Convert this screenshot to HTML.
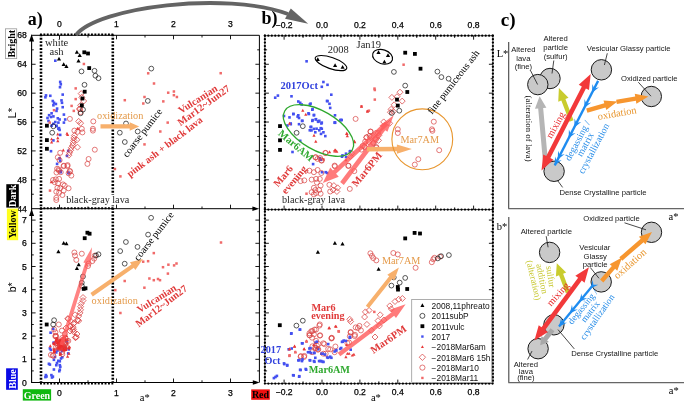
<!DOCTYPE html><html><head><meta charset="utf-8"><style>html,body{margin:0;padding:0;background:#fff;overflow:hidden;}svg{display:block;will-change:transform;}</style></head><body>
<svg width="685" height="405" viewBox="0 0 685 405">
<rect width="685" height="405" fill="#fff"/>
<line x1="31.6" y1="38" x2="31.6" y2="382.5" stroke="#000" stroke-width="1.1"/>
<polygon points="31.6,34.3 34.1,41.5 29.1,41.5" fill="#000"/>
<polygon points="31.6,209 34.1,216 29.1,216" fill="#000"/>
<line x1="31.1" y1="35.3" x2="259.4" y2="35.3" stroke="#000" stroke-width="1"/>
<line x1="259.4" y1="35.3" x2="259.4" y2="382.5" stroke="#000" stroke-width="1"/>
<line x1="31.1" y1="208.7" x2="253" y2="208.7" stroke="#000" stroke-width="1"/>
<polygon points="259.2,208.7 252.4,206.4 252.4,211" fill="#000"/>
<line x1="31.1" y1="382.5" x2="253" y2="382.5" stroke="#000" stroke-width="1"/>
<polygon points="259.6,382.5 252.8,380.2 252.8,384.8" fill="#000"/>
<line x1="31.6" y1="194.24" x2="33.8" y2="194.24" stroke="#000" stroke-width="0.9"/>
<line x1="259.4" y1="194.24" x2="257.2" y2="194.24" stroke="#000" stroke-width="0.9"/>
<line x1="31.6" y1="179.8" x2="35.6" y2="179.8" stroke="#000" stroke-width="0.9"/>
<line x1="259.4" y1="179.8" x2="255.4" y2="179.8" stroke="#000" stroke-width="0.9"/>
<line x1="31.6" y1="165.36" x2="33.8" y2="165.36" stroke="#000" stroke-width="0.9"/>
<line x1="259.4" y1="165.36" x2="257.2" y2="165.36" stroke="#000" stroke-width="0.9"/>
<line x1="31.6" y1="150.92" x2="35.6" y2="150.92" stroke="#000" stroke-width="0.9"/>
<line x1="259.4" y1="150.92" x2="255.4" y2="150.92" stroke="#000" stroke-width="0.9"/>
<line x1="31.6" y1="136.48" x2="33.8" y2="136.48" stroke="#000" stroke-width="0.9"/>
<line x1="259.4" y1="136.48" x2="257.2" y2="136.48" stroke="#000" stroke-width="0.9"/>
<line x1="31.6" y1="122.04" x2="35.6" y2="122.04" stroke="#000" stroke-width="0.9"/>
<line x1="259.4" y1="122.04" x2="255.4" y2="122.04" stroke="#000" stroke-width="0.9"/>
<line x1="31.6" y1="107.6" x2="33.8" y2="107.6" stroke="#000" stroke-width="0.9"/>
<line x1="259.4" y1="107.6" x2="257.2" y2="107.6" stroke="#000" stroke-width="0.9"/>
<line x1="31.6" y1="93.16" x2="35.6" y2="93.16" stroke="#000" stroke-width="0.9"/>
<line x1="259.4" y1="93.16" x2="255.4" y2="93.16" stroke="#000" stroke-width="0.9"/>
<line x1="31.6" y1="78.72" x2="33.8" y2="78.72" stroke="#000" stroke-width="0.9"/>
<line x1="259.4" y1="78.72" x2="257.2" y2="78.72" stroke="#000" stroke-width="0.9"/>
<line x1="31.6" y1="64.28" x2="35.6" y2="64.28" stroke="#000" stroke-width="0.9"/>
<line x1="259.4" y1="64.28" x2="255.4" y2="64.28" stroke="#000" stroke-width="0.9"/>
<line x1="31.6" y1="49.84" x2="33.8" y2="49.84" stroke="#000" stroke-width="0.9"/>
<line x1="259.4" y1="49.84" x2="257.2" y2="49.84" stroke="#000" stroke-width="0.9"/>
<line x1="59.5" y1="35.3" x2="59.5" y2="39.3" stroke="#000" stroke-width="0.9"/>
<line x1="59.5" y1="208.7" x2="59.5" y2="204.7" stroke="#000" stroke-width="0.9"/>
<line x1="88" y1="35.3" x2="88" y2="37.5" stroke="#000" stroke-width="0.9"/>
<line x1="88" y1="208.7" x2="88" y2="206.5" stroke="#000" stroke-width="0.9"/>
<line x1="116.5" y1="35.3" x2="116.5" y2="39.3" stroke="#000" stroke-width="0.9"/>
<line x1="116.5" y1="208.7" x2="116.5" y2="204.7" stroke="#000" stroke-width="0.9"/>
<line x1="145" y1="35.3" x2="145" y2="37.5" stroke="#000" stroke-width="0.9"/>
<line x1="145" y1="208.7" x2="145" y2="206.5" stroke="#000" stroke-width="0.9"/>
<line x1="173.5" y1="35.3" x2="173.5" y2="39.3" stroke="#000" stroke-width="0.9"/>
<line x1="173.5" y1="208.7" x2="173.5" y2="204.7" stroke="#000" stroke-width="0.9"/>
<line x1="202" y1="35.3" x2="202" y2="37.5" stroke="#000" stroke-width="0.9"/>
<line x1="202" y1="208.7" x2="202" y2="206.5" stroke="#000" stroke-width="0.9"/>
<line x1="230.5" y1="35.3" x2="230.5" y2="39.3" stroke="#000" stroke-width="0.9"/>
<line x1="230.5" y1="208.7" x2="230.5" y2="204.7" stroke="#000" stroke-width="0.9"/>
<line x1="31.6" y1="370.9" x2="33.8" y2="370.9" stroke="#000" stroke-width="0.9"/>
<line x1="259.4" y1="370.9" x2="257.2" y2="370.9" stroke="#000" stroke-width="0.9"/>
<line x1="31.6" y1="359.3" x2="35.6" y2="359.3" stroke="#000" stroke-width="0.9"/>
<line x1="259.4" y1="359.3" x2="255.4" y2="359.3" stroke="#000" stroke-width="0.9"/>
<line x1="31.6" y1="347.7" x2="33.8" y2="347.7" stroke="#000" stroke-width="0.9"/>
<line x1="259.4" y1="347.7" x2="257.2" y2="347.7" stroke="#000" stroke-width="0.9"/>
<line x1="31.6" y1="336.1" x2="35.6" y2="336.1" stroke="#000" stroke-width="0.9"/>
<line x1="259.4" y1="336.1" x2="255.4" y2="336.1" stroke="#000" stroke-width="0.9"/>
<line x1="31.6" y1="324.5" x2="33.8" y2="324.5" stroke="#000" stroke-width="0.9"/>
<line x1="259.4" y1="324.5" x2="257.2" y2="324.5" stroke="#000" stroke-width="0.9"/>
<line x1="31.6" y1="312.9" x2="35.6" y2="312.9" stroke="#000" stroke-width="0.9"/>
<line x1="259.4" y1="312.9" x2="255.4" y2="312.9" stroke="#000" stroke-width="0.9"/>
<line x1="31.6" y1="301.3" x2="33.8" y2="301.3" stroke="#000" stroke-width="0.9"/>
<line x1="259.4" y1="301.3" x2="257.2" y2="301.3" stroke="#000" stroke-width="0.9"/>
<line x1="31.6" y1="289.7" x2="35.6" y2="289.7" stroke="#000" stroke-width="0.9"/>
<line x1="259.4" y1="289.7" x2="255.4" y2="289.7" stroke="#000" stroke-width="0.9"/>
<line x1="31.6" y1="278.1" x2="33.8" y2="278.1" stroke="#000" stroke-width="0.9"/>
<line x1="259.4" y1="278.1" x2="257.2" y2="278.1" stroke="#000" stroke-width="0.9"/>
<line x1="31.6" y1="266.5" x2="35.6" y2="266.5" stroke="#000" stroke-width="0.9"/>
<line x1="259.4" y1="266.5" x2="255.4" y2="266.5" stroke="#000" stroke-width="0.9"/>
<line x1="31.6" y1="254.9" x2="33.8" y2="254.9" stroke="#000" stroke-width="0.9"/>
<line x1="259.4" y1="254.9" x2="257.2" y2="254.9" stroke="#000" stroke-width="0.9"/>
<line x1="31.6" y1="243.3" x2="35.6" y2="243.3" stroke="#000" stroke-width="0.9"/>
<line x1="259.4" y1="243.3" x2="255.4" y2="243.3" stroke="#000" stroke-width="0.9"/>
<line x1="31.6" y1="231.7" x2="33.8" y2="231.7" stroke="#000" stroke-width="0.9"/>
<line x1="259.4" y1="231.7" x2="257.2" y2="231.7" stroke="#000" stroke-width="0.9"/>
<line x1="31.6" y1="220.1" x2="35.6" y2="220.1" stroke="#000" stroke-width="0.9"/>
<line x1="259.4" y1="220.1" x2="255.4" y2="220.1" stroke="#000" stroke-width="0.9"/>
<line x1="59.5" y1="382.5" x2="59.5" y2="378.5" stroke="#000" stroke-width="0.9"/>
<line x1="88" y1="382.5" x2="88" y2="380.3" stroke="#000" stroke-width="0.9"/>
<line x1="116.5" y1="382.5" x2="116.5" y2="378.5" stroke="#000" stroke-width="0.9"/>
<line x1="145" y1="382.5" x2="145" y2="380.3" stroke="#000" stroke-width="0.9"/>
<line x1="173.5" y1="382.5" x2="173.5" y2="378.5" stroke="#000" stroke-width="0.9"/>
<line x1="202" y1="382.5" x2="202" y2="380.3" stroke="#000" stroke-width="0.9"/>
<line x1="230.5" y1="382.5" x2="230.5" y2="378.5" stroke="#000" stroke-width="0.9"/>
<text x="26.8" y="38.4" font-family='"Liberation Sans", sans-serif' font-size="8.6" font-weight="normal" fill="#000" text-anchor="end" stroke="#000" stroke-width="0.25">68</text>
<text x="26.8" y="67.28" font-family='"Liberation Sans", sans-serif' font-size="8.6" font-weight="normal" fill="#000" text-anchor="end" stroke="#000" stroke-width="0.25">64</text>
<text x="26.8" y="96.16" font-family='"Liberation Sans", sans-serif' font-size="8.6" font-weight="normal" fill="#000" text-anchor="end" stroke="#000" stroke-width="0.25">60</text>
<text x="26.8" y="125.04" font-family='"Liberation Sans", sans-serif' font-size="8.6" font-weight="normal" fill="#000" text-anchor="end" stroke="#000" stroke-width="0.25">56</text>
<text x="26.8" y="153.92" font-family='"Liberation Sans", sans-serif' font-size="8.6" font-weight="normal" fill="#000" text-anchor="end" stroke="#000" stroke-width="0.25">52</text>
<text x="26.8" y="182.8" font-family='"Liberation Sans", sans-serif' font-size="8.6" font-weight="normal" fill="#000" text-anchor="end" stroke="#000" stroke-width="0.25">48</text>
<text x="26.8" y="211.68" font-family='"Liberation Sans", sans-serif' font-size="8.6" font-weight="normal" fill="#000" text-anchor="end" stroke="#000" stroke-width="0.25">44</text>
<text x="26.8" y="223.1" font-family='"Liberation Sans", sans-serif' font-size="8.6" font-weight="normal" fill="#000" text-anchor="end" stroke="#000" stroke-width="0.25">7</text>
<text x="26.8" y="246.3" font-family='"Liberation Sans", sans-serif' font-size="8.6" font-weight="normal" fill="#000" text-anchor="end" stroke="#000" stroke-width="0.25">6</text>
<text x="26.8" y="269.5" font-family='"Liberation Sans", sans-serif' font-size="8.6" font-weight="normal" fill="#000" text-anchor="end" stroke="#000" stroke-width="0.25">5</text>
<text x="26.8" y="292.7" font-family='"Liberation Sans", sans-serif' font-size="8.6" font-weight="normal" fill="#000" text-anchor="end" stroke="#000" stroke-width="0.25">4</text>
<text x="26.8" y="315.9" font-family='"Liberation Sans", sans-serif' font-size="8.6" font-weight="normal" fill="#000" text-anchor="end" stroke="#000" stroke-width="0.25">3</text>
<text x="26.8" y="339.1" font-family='"Liberation Sans", sans-serif' font-size="8.6" font-weight="normal" fill="#000" text-anchor="end" stroke="#000" stroke-width="0.25">2</text>
<text x="26.8" y="362.3" font-family='"Liberation Sans", sans-serif' font-size="8.6" font-weight="normal" fill="#000" text-anchor="end" stroke="#000" stroke-width="0.25">1</text>
<text x="26.8" y="385.5" font-family='"Liberation Sans", sans-serif' font-size="8.6" font-weight="normal" fill="#000" text-anchor="end" stroke="#000" stroke-width="0.25">0</text>
<text x="59.5" y="27.3" font-family='"Liberation Sans", sans-serif' font-size="8.6" font-weight="normal" fill="#000" text-anchor="middle" stroke="#000" stroke-width="0.25">0</text>
<text x="59.5" y="395.5" font-family='"Liberation Sans", sans-serif' font-size="8.6" font-weight="normal" fill="#000" text-anchor="middle" stroke="#000" stroke-width="0.25">0</text>
<text x="116.5" y="27.3" font-family='"Liberation Sans", sans-serif' font-size="8.6" font-weight="normal" fill="#000" text-anchor="middle" stroke="#000" stroke-width="0.25">1</text>
<text x="116.5" y="395.5" font-family='"Liberation Sans", sans-serif' font-size="8.6" font-weight="normal" fill="#000" text-anchor="middle" stroke="#000" stroke-width="0.25">1</text>
<text x="173.5" y="27.3" font-family='"Liberation Sans", sans-serif' font-size="8.6" font-weight="normal" fill="#000" text-anchor="middle" stroke="#000" stroke-width="0.25">2</text>
<text x="173.5" y="395.5" font-family='"Liberation Sans", sans-serif' font-size="8.6" font-weight="normal" fill="#000" text-anchor="middle" stroke="#000" stroke-width="0.25">2</text>
<text x="230.5" y="27.3" font-family='"Liberation Sans", sans-serif' font-size="8.6" font-weight="normal" fill="#000" text-anchor="middle" stroke="#000" stroke-width="0.25">3</text>
<text x="230.5" y="395.5" font-family='"Liberation Sans", sans-serif' font-size="8.6" font-weight="normal" fill="#000" text-anchor="middle" stroke="#000" stroke-width="0.25">3</text>
<line x1="41" y1="34.4" x2="41" y2="383" stroke="#000" stroke-width="2.6" stroke-dasharray="1.9 1.5"/>
<line x1="112.8" y1="34.4" x2="112.8" y2="383" stroke="#000" stroke-width="2.6" stroke-dasharray="1.9 1.5"/>
<line x1="40" y1="34.4" x2="113.5" y2="34.4" stroke="#000" stroke-width="2" stroke-dasharray="1.9 1.5"/>
<line x1="40" y1="208.3" x2="113.5" y2="208.3" stroke="#000" stroke-width="2" stroke-dasharray="1.9 1.5"/>
<line x1="40" y1="383.4" x2="113.5" y2="383.4" stroke="#000" stroke-width="2" stroke-dasharray="1.9 1.5"/>
<line x1="264.9" y1="35.7" x2="492.9" y2="35.7" stroke="#000" stroke-width="0.7"/>
<line x1="264.9" y1="35.7" x2="492.9" y2="35.7" stroke="#000" stroke-width="2.3" stroke-dasharray="0 3.45" stroke-linecap="round"/>
<line x1="264.9" y1="35.7" x2="264.9" y2="383.6" stroke="#000" stroke-width="0.7"/>
<line x1="264.9" y1="35.7" x2="264.9" y2="383.6" stroke="#000" stroke-width="2.3" stroke-dasharray="0 3.45" stroke-linecap="round"/>
<line x1="492.9" y1="35.7" x2="492.9" y2="383.6" stroke="#000" stroke-width="0.7"/>
<line x1="492.9" y1="35.7" x2="492.9" y2="383.6" stroke="#000" stroke-width="2.3" stroke-dasharray="0 3.45" stroke-linecap="round"/>
<line x1="264.9" y1="209.6" x2="492.9" y2="209.6" stroke="#000" stroke-width="0.7"/>
<line x1="264.9" y1="209.6" x2="492.9" y2="209.6" stroke="#000" stroke-width="2.3" stroke-dasharray="0 3.45" stroke-linecap="round"/>
<line x1="264.9" y1="383.6" x2="492.9" y2="383.6" stroke="#000" stroke-width="0.7"/>
<line x1="264.9" y1="383.6" x2="492.9" y2="383.6" stroke="#000" stroke-width="2.3" stroke-dasharray="0 3.45" stroke-linecap="round"/>
<line x1="284.1" y1="35.7" x2="284.1" y2="39.7" stroke="#000" stroke-width="0.9"/>
<line x1="284.1" y1="209.6" x2="284.1" y2="205.6" stroke="#000" stroke-width="0.9"/>
<line x1="284.1" y1="383.6" x2="284.1" y2="379.6" stroke="#000" stroke-width="0.9"/>
<line x1="303.05" y1="35.7" x2="303.05" y2="37.9" stroke="#000" stroke-width="0.9"/>
<line x1="303.05" y1="209.6" x2="303.05" y2="207.4" stroke="#000" stroke-width="0.9"/>
<line x1="303.05" y1="383.6" x2="303.05" y2="381.4" stroke="#000" stroke-width="0.9"/>
<line x1="322" y1="35.7" x2="322" y2="39.7" stroke="#000" stroke-width="0.9"/>
<line x1="322" y1="209.6" x2="322" y2="205.6" stroke="#000" stroke-width="0.9"/>
<line x1="322" y1="383.6" x2="322" y2="379.6" stroke="#000" stroke-width="0.9"/>
<line x1="340.95" y1="35.7" x2="340.95" y2="37.9" stroke="#000" stroke-width="0.9"/>
<line x1="340.95" y1="209.6" x2="340.95" y2="207.4" stroke="#000" stroke-width="0.9"/>
<line x1="340.95" y1="383.6" x2="340.95" y2="381.4" stroke="#000" stroke-width="0.9"/>
<line x1="359.9" y1="35.7" x2="359.9" y2="39.7" stroke="#000" stroke-width="0.9"/>
<line x1="359.9" y1="209.6" x2="359.9" y2="205.6" stroke="#000" stroke-width="0.9"/>
<line x1="359.9" y1="383.6" x2="359.9" y2="379.6" stroke="#000" stroke-width="0.9"/>
<line x1="378.85" y1="35.7" x2="378.85" y2="37.9" stroke="#000" stroke-width="0.9"/>
<line x1="378.85" y1="209.6" x2="378.85" y2="207.4" stroke="#000" stroke-width="0.9"/>
<line x1="378.85" y1="383.6" x2="378.85" y2="381.4" stroke="#000" stroke-width="0.9"/>
<line x1="397.8" y1="35.7" x2="397.8" y2="39.7" stroke="#000" stroke-width="0.9"/>
<line x1="397.8" y1="209.6" x2="397.8" y2="205.6" stroke="#000" stroke-width="0.9"/>
<line x1="397.8" y1="383.6" x2="397.8" y2="379.6" stroke="#000" stroke-width="0.9"/>
<line x1="416.75" y1="35.7" x2="416.75" y2="37.9" stroke="#000" stroke-width="0.9"/>
<line x1="416.75" y1="209.6" x2="416.75" y2="207.4" stroke="#000" stroke-width="0.9"/>
<line x1="416.75" y1="383.6" x2="416.75" y2="381.4" stroke="#000" stroke-width="0.9"/>
<line x1="435.7" y1="35.7" x2="435.7" y2="39.7" stroke="#000" stroke-width="0.9"/>
<line x1="435.7" y1="209.6" x2="435.7" y2="205.6" stroke="#000" stroke-width="0.9"/>
<line x1="435.7" y1="383.6" x2="435.7" y2="379.6" stroke="#000" stroke-width="0.9"/>
<line x1="454.65" y1="35.7" x2="454.65" y2="37.9" stroke="#000" stroke-width="0.9"/>
<line x1="454.65" y1="209.6" x2="454.65" y2="207.4" stroke="#000" stroke-width="0.9"/>
<line x1="454.65" y1="383.6" x2="454.65" y2="381.4" stroke="#000" stroke-width="0.9"/>
<line x1="473.6" y1="35.7" x2="473.6" y2="39.7" stroke="#000" stroke-width="0.9"/>
<line x1="473.6" y1="209.6" x2="473.6" y2="205.6" stroke="#000" stroke-width="0.9"/>
<line x1="473.6" y1="383.6" x2="473.6" y2="379.6" stroke="#000" stroke-width="0.9"/>
<line x1="264.9" y1="194.24" x2="267.1" y2="194.24" stroke="#000" stroke-width="0.9"/>
<line x1="492.9" y1="194.24" x2="490.7" y2="194.24" stroke="#000" stroke-width="0.9"/>
<line x1="264.9" y1="179.8" x2="268.9" y2="179.8" stroke="#000" stroke-width="0.9"/>
<line x1="492.9" y1="179.8" x2="488.9" y2="179.8" stroke="#000" stroke-width="0.9"/>
<line x1="264.9" y1="165.36" x2="267.1" y2="165.36" stroke="#000" stroke-width="0.9"/>
<line x1="492.9" y1="165.36" x2="490.7" y2="165.36" stroke="#000" stroke-width="0.9"/>
<line x1="264.9" y1="150.92" x2="268.9" y2="150.92" stroke="#000" stroke-width="0.9"/>
<line x1="492.9" y1="150.92" x2="488.9" y2="150.92" stroke="#000" stroke-width="0.9"/>
<line x1="264.9" y1="136.48" x2="267.1" y2="136.48" stroke="#000" stroke-width="0.9"/>
<line x1="492.9" y1="136.48" x2="490.7" y2="136.48" stroke="#000" stroke-width="0.9"/>
<line x1="264.9" y1="122.04" x2="268.9" y2="122.04" stroke="#000" stroke-width="0.9"/>
<line x1="492.9" y1="122.04" x2="488.9" y2="122.04" stroke="#000" stroke-width="0.9"/>
<line x1="264.9" y1="107.6" x2="267.1" y2="107.6" stroke="#000" stroke-width="0.9"/>
<line x1="492.9" y1="107.6" x2="490.7" y2="107.6" stroke="#000" stroke-width="0.9"/>
<line x1="264.9" y1="93.16" x2="268.9" y2="93.16" stroke="#000" stroke-width="0.9"/>
<line x1="492.9" y1="93.16" x2="488.9" y2="93.16" stroke="#000" stroke-width="0.9"/>
<line x1="264.9" y1="78.72" x2="267.1" y2="78.72" stroke="#000" stroke-width="0.9"/>
<line x1="492.9" y1="78.72" x2="490.7" y2="78.72" stroke="#000" stroke-width="0.9"/>
<line x1="264.9" y1="64.28" x2="268.9" y2="64.28" stroke="#000" stroke-width="0.9"/>
<line x1="492.9" y1="64.28" x2="488.9" y2="64.28" stroke="#000" stroke-width="0.9"/>
<line x1="264.9" y1="49.84" x2="267.1" y2="49.84" stroke="#000" stroke-width="0.9"/>
<line x1="492.9" y1="49.84" x2="490.7" y2="49.84" stroke="#000" stroke-width="0.9"/>
<line x1="264.9" y1="370.9" x2="267.1" y2="370.9" stroke="#000" stroke-width="0.9"/>
<line x1="492.9" y1="370.9" x2="490.7" y2="370.9" stroke="#000" stroke-width="0.9"/>
<line x1="264.9" y1="359.3" x2="268.9" y2="359.3" stroke="#000" stroke-width="0.9"/>
<line x1="492.9" y1="359.3" x2="488.9" y2="359.3" stroke="#000" stroke-width="0.9"/>
<line x1="264.9" y1="347.7" x2="267.1" y2="347.7" stroke="#000" stroke-width="0.9"/>
<line x1="492.9" y1="347.7" x2="490.7" y2="347.7" stroke="#000" stroke-width="0.9"/>
<line x1="264.9" y1="336.1" x2="268.9" y2="336.1" stroke="#000" stroke-width="0.9"/>
<line x1="492.9" y1="336.1" x2="488.9" y2="336.1" stroke="#000" stroke-width="0.9"/>
<line x1="264.9" y1="324.5" x2="267.1" y2="324.5" stroke="#000" stroke-width="0.9"/>
<line x1="492.9" y1="324.5" x2="490.7" y2="324.5" stroke="#000" stroke-width="0.9"/>
<line x1="264.9" y1="312.9" x2="268.9" y2="312.9" stroke="#000" stroke-width="0.9"/>
<line x1="492.9" y1="312.9" x2="488.9" y2="312.9" stroke="#000" stroke-width="0.9"/>
<line x1="264.9" y1="301.3" x2="267.1" y2="301.3" stroke="#000" stroke-width="0.9"/>
<line x1="492.9" y1="301.3" x2="490.7" y2="301.3" stroke="#000" stroke-width="0.9"/>
<line x1="264.9" y1="289.7" x2="268.9" y2="289.7" stroke="#000" stroke-width="0.9"/>
<line x1="492.9" y1="289.7" x2="488.9" y2="289.7" stroke="#000" stroke-width="0.9"/>
<line x1="264.9" y1="278.1" x2="267.1" y2="278.1" stroke="#000" stroke-width="0.9"/>
<line x1="492.9" y1="278.1" x2="490.7" y2="278.1" stroke="#000" stroke-width="0.9"/>
<line x1="264.9" y1="266.5" x2="268.9" y2="266.5" stroke="#000" stroke-width="0.9"/>
<line x1="492.9" y1="266.5" x2="488.9" y2="266.5" stroke="#000" stroke-width="0.9"/>
<line x1="264.9" y1="254.9" x2="267.1" y2="254.9" stroke="#000" stroke-width="0.9"/>
<line x1="492.9" y1="254.9" x2="490.7" y2="254.9" stroke="#000" stroke-width="0.9"/>
<line x1="264.9" y1="243.3" x2="268.9" y2="243.3" stroke="#000" stroke-width="0.9"/>
<line x1="492.9" y1="243.3" x2="488.9" y2="243.3" stroke="#000" stroke-width="0.9"/>
<line x1="264.9" y1="231.7" x2="267.1" y2="231.7" stroke="#000" stroke-width="0.9"/>
<line x1="492.9" y1="231.7" x2="490.7" y2="231.7" stroke="#000" stroke-width="0.9"/>
<line x1="264.9" y1="220.1" x2="268.9" y2="220.1" stroke="#000" stroke-width="0.9"/>
<line x1="492.9" y1="220.1" x2="488.9" y2="220.1" stroke="#000" stroke-width="0.9"/>
<text x="284.1" y="27.6" font-family='"Liberation Sans", sans-serif' font-size="8.6" font-weight="normal" fill="#000" text-anchor="middle" stroke="#000" stroke-width="0.25">&#8722;0.2</text>
<text x="284.1" y="395.4" font-family='"Liberation Sans", sans-serif' font-size="8.6" font-weight="normal" fill="#000" text-anchor="middle" stroke="#000" stroke-width="0.25">&#8722;0.2</text>
<text x="322" y="27.6" font-family='"Liberation Sans", sans-serif' font-size="8.6" font-weight="normal" fill="#000" text-anchor="middle" stroke="#000" stroke-width="0.25">0.0</text>
<text x="322" y="395.4" font-family='"Liberation Sans", sans-serif' font-size="8.6" font-weight="normal" fill="#000" text-anchor="middle" stroke="#000" stroke-width="0.25">0.0</text>
<text x="359.9" y="27.6" font-family='"Liberation Sans", sans-serif' font-size="8.6" font-weight="normal" fill="#000" text-anchor="middle" stroke="#000" stroke-width="0.25">0.2</text>
<text x="359.9" y="395.4" font-family='"Liberation Sans", sans-serif' font-size="8.6" font-weight="normal" fill="#000" text-anchor="middle" stroke="#000" stroke-width="0.25">0.2</text>
<text x="397.8" y="27.6" font-family='"Liberation Sans", sans-serif' font-size="8.6" font-weight="normal" fill="#000" text-anchor="middle" stroke="#000" stroke-width="0.25">0.4</text>
<text x="397.8" y="395.4" font-family='"Liberation Sans", sans-serif' font-size="8.6" font-weight="normal" fill="#000" text-anchor="middle" stroke="#000" stroke-width="0.25">0.4</text>
<text x="435.7" y="27.6" font-family='"Liberation Sans", sans-serif' font-size="8.6" font-weight="normal" fill="#000" text-anchor="middle" stroke="#000" stroke-width="0.25">0.6</text>
<text x="435.7" y="395.4" font-family='"Liberation Sans", sans-serif' font-size="8.6" font-weight="normal" fill="#000" text-anchor="middle" stroke="#000" stroke-width="0.25">0.6</text>
<text x="473.6" y="27.6" font-family='"Liberation Sans", sans-serif' font-size="8.6" font-weight="normal" fill="#000" text-anchor="middle" stroke="#000" stroke-width="0.25">0.8</text>
<text x="473.6" y="395.4" font-family='"Liberation Sans", sans-serif' font-size="8.6" font-weight="normal" fill="#000" text-anchor="middle" stroke="#000" stroke-width="0.25">0.8</text>
<line x1="508.7" y1="42" x2="508.7" y2="208.6" stroke="#444" stroke-width="1.1"/>
<line x1="508.2" y1="208.6" x2="684" y2="208.6" stroke="#666" stroke-width="1.3"/>
<line x1="508.8" y1="217" x2="508.8" y2="382.6" stroke="#444" stroke-width="1.1"/>
<line x1="508.3" y1="382.6" x2="684" y2="382.6" stroke="#666" stroke-width="1.3"/>
<rect x="54" y="59.4" width="2.6" height="2.6" fill="#4450f0"/>
<rect x="58.9" y="80.6" width="2.6" height="2.6" fill="#4450f0"/>
<rect x="59.5" y="83" width="2.6" height="2.6" fill="#4450f0"/>
<rect x="58.7" y="85.9" width="2.6" height="2.6" fill="#4450f0"/>
<rect x="44.7" y="94.1" width="2.6" height="2.6" fill="#4450f0"/>
<rect x="44.1" y="96" width="2.6" height="2.6" fill="#4450f0"/>
<rect x="49" y="94.5" width="2.6" height="2.6" fill="#4450f0"/>
<rect x="61.4" y="93.3" width="2.6" height="2.6" fill="#4450f0"/>
<rect x="51.5" y="99.7" width="2.6" height="2.6" fill="#4450f0"/>
<rect x="52.7" y="101.5" width="2.6" height="2.6" fill="#4450f0"/>
<rect x="54.6" y="102.7" width="2.6" height="2.6" fill="#4450f0"/>
<rect x="52.1" y="104" width="2.6" height="2.6" fill="#4450f0"/>
<rect x="60.2" y="99.1" width="2.6" height="2.6" fill="#4450f0"/>
<rect x="60.7" y="101.5" width="2.6" height="2.6" fill="#4450f0"/>
<rect x="61.4" y="105.9" width="2.6" height="2.6" fill="#4450f0"/>
<rect x="55.8" y="107.3" width="2.6" height="2.6" fill="#4450f0"/>
<rect x="55.2" y="109.6" width="2.6" height="2.6" fill="#4450f0"/>
<rect x="47.8" y="113.9" width="2.6" height="2.6" fill="#4450f0"/>
<rect x="50.3" y="112" width="2.6" height="2.6" fill="#4450f0"/>
<rect x="49.7" y="115.7" width="2.6" height="2.6" fill="#4450f0"/>
<rect x="52.1" y="115.1" width="2.6" height="2.6" fill="#4450f0"/>
<rect x="56.5" y="117" width="2.6" height="2.6" fill="#4450f0"/>
<rect x="58.3" y="118.2" width="2.6" height="2.6" fill="#4450f0"/>
<rect x="62.6" y="113.3" width="2.6" height="2.6" fill="#4450f0"/>
<rect x="63.9" y="118.2" width="2.6" height="2.6" fill="#4450f0"/>
<rect x="62.6" y="121.3" width="2.6" height="2.6" fill="#4450f0"/>
<rect x="54" y="120.7" width="2.6" height="2.6" fill="#4450f0"/>
<rect x="57.1" y="121.3" width="2.6" height="2.6" fill="#4450f0"/>
<rect x="55.2" y="124.4" width="2.6" height="2.6" fill="#4450f0"/>
<rect x="57.7" y="126.8" width="2.6" height="2.6" fill="#4450f0"/>
<rect x="50.3" y="124.4" width="2.6" height="2.6" fill="#4450f0"/>
<rect x="52.1" y="122.5" width="2.6" height="2.6" fill="#4450f0"/>
<rect x="46.2" y="116.7" width="2.6" height="2.6" fill="#4450f0"/>
<rect x="47.2" y="119.7" width="2.6" height="2.6" fill="#4450f0"/>
<rect x="55.2" y="124.9" width="2.6" height="2.6" fill="#4450f0"/>
<rect x="57.1" y="127.4" width="2.6" height="2.6" fill="#4450f0"/>
<rect x="58.3" y="128.6" width="2.6" height="2.6" fill="#4450f0"/>
<rect x="58.9" y="133.6" width="2.6" height="2.6" fill="#4450f0"/>
<rect x="52.1" y="139.1" width="2.6" height="2.6" fill="#4450f0"/>
<rect x="49.7" y="149.9" width="2.6" height="2.6" fill="#4450f0"/>
<rect x="55.8" y="162.6" width="2.6" height="2.6" fill="#4450f0"/>
<rect x="66.9" y="149.6" width="2.6" height="2.6" fill="#4450f0"/>
<rect x="65.7" y="154.6" width="2.6" height="2.6" fill="#4450f0"/>
<rect x="58.3" y="157" width="2.6" height="2.6" fill="#4450f0"/>
<rect x="58.9" y="159.5" width="2.6" height="2.6" fill="#4450f0"/>
<rect x="59.5" y="170" width="2.6" height="2.6" fill="#4450f0"/>
<rect x="66.9" y="171.2" width="2.6" height="2.6" fill="#4450f0"/>
<rect x="59.5" y="170.9" width="2.6" height="2.6" fill="#4450f0"/>
<rect x="67.3" y="172" width="2.6" height="2.6" fill="#4450f0"/>
<rect x="82.65" y="62.75" width="2.5" height="2.5" fill="#f06a6a"/>
<rect x="74.45" y="87.15" width="2.5" height="2.5" fill="#f06a6a"/>
<rect x="74.45" y="97.85" width="2.5" height="2.5" fill="#f06a6a"/>
<rect x="70.35" y="104.65" width="2.5" height="2.5" fill="#f06a6a"/>
<rect x="72.55" y="109.65" width="2.5" height="2.5" fill="#f06a6a"/>
<rect x="52.75" y="108.95" width="2.5" height="2.5" fill="#f06a6a"/>
<rect x="48.45" y="121.35" width="2.5" height="2.5" fill="#f06a6a"/>
<rect x="76.85" y="127.55" width="2.5" height="2.5" fill="#f06a6a"/>
<rect x="48.75" y="189.35" width="2.5" height="2.5" fill="#f06a6a"/>
<rect x="146.95" y="72.05" width="2.5" height="2.5" fill="#f06a6a"/>
<rect x="152.75" y="82.25" width="2.5" height="2.5" fill="#f06a6a"/>
<rect x="166.95" y="91.45" width="2.5" height="2.5" fill="#f06a6a"/>
<rect x="172.65" y="90.25" width="2.5" height="2.5" fill="#f06a6a"/>
<rect x="172.65" y="93.95" width="2.5" height="2.5" fill="#f06a6a"/>
<rect x="175.65" y="95.75" width="2.5" height="2.5" fill="#f06a6a"/>
<rect x="143.25" y="95.75" width="2.5" height="2.5" fill="#f06a6a"/>
<rect x="142.05" y="102.25" width="2.5" height="2.5" fill="#f06a6a"/>
<rect x="123.55" y="98.95" width="2.5" height="2.5" fill="#f06a6a"/>
<rect x="162.05" y="100.15" width="2.5" height="2.5" fill="#f06a6a"/>
<rect x="166.45" y="121.35" width="2.5" height="2.5" fill="#f06a6a"/>
<rect x="159.05" y="130.25" width="2.5" height="2.5" fill="#f06a6a"/>
<rect x="143.25" y="143.15" width="2.5" height="2.5" fill="#f06a6a"/>
<rect x="113.65" y="167.75" width="2.5" height="2.5" fill="#f06a6a"/>
<rect x="119.15" y="175.15" width="2.5" height="2.5" fill="#f06a6a"/>
<rect x="219.45" y="71.95" width="2.5" height="2.5" fill="#f06a6a"/>
<polygon points="57.8,132.57 59.4,135.45 56.2,135.45" fill="#e83a3a"/>
<polygon points="57.8,136.27 59.4,139.15 56.2,139.15" fill="#e83a3a"/>
<polygon points="57.8,139.27 59.4,142.15 56.2,142.15" fill="#e83a3a"/>
<polygon points="51.6,137.47 53.2,140.35 50,140.35" fill="#e83a3a"/>
<polygon points="51.6,140.57 53.2,143.45 50,143.45" fill="#e83a3a"/>
<polygon points="67,131.87 68.6,134.75 65.4,134.75" fill="#e83a3a"/>
<polygon points="67.6,133.17 69.2,136.05 66,136.05" fill="#e83a3a"/>
<polygon points="77.5,126.97 79.1,129.85 75.9,129.85" fill="#e83a3a"/>
<polygon points="63.3,148.57 64.9,151.45 61.7,151.45" fill="#e83a3a"/>
<polygon points="51.3,180.47 52.9,183.35 49.7,183.35" fill="#e83a3a"/>
<polygon points="81.2,90.6 84.2,93.6 81.2,96.6 78.2,93.6" fill="none" stroke="#d84040" stroke-width="0.75"/>
<polygon points="81.8,94.3 84.8,97.3 81.8,100.3 78.8,97.3" fill="none" stroke="#d84040" stroke-width="0.75"/>
<polygon points="83.7,98 86.7,101 83.7,104 80.7,101" fill="none" stroke="#d84040" stroke-width="0.75"/>
<polygon points="80.6,102.3 83.6,105.3 80.6,108.3 77.6,105.3" fill="none" stroke="#d84040" stroke-width="0.75"/>
<polygon points="79.4,106 82.4,109 79.4,112 76.4,109" fill="none" stroke="#d84040" stroke-width="0.75"/>
<polygon points="78.7,118.4 81.7,121.4 78.7,124.4 75.7,121.4" fill="none" stroke="#d84040" stroke-width="0.75"/>
<polygon points="80.6,120.2 83.6,123.2 80.6,126.2 77.6,123.2" fill="none" stroke="#d84040" stroke-width="0.75"/>
<polygon points="74.4,132.5 77.4,135.5 74.4,138.5 71.4,135.5" fill="none" stroke="#d84040" stroke-width="0.75"/>
<polygon points="73.8,135 76.8,138 73.8,141 70.8,138" fill="none" stroke="#d84040" stroke-width="0.75"/>
<polygon points="73.8,137.4 76.8,140.4 73.8,143.4 70.8,140.4" fill="none" stroke="#d84040" stroke-width="0.75"/>
<polygon points="73.2,139.9 76.2,142.9 73.2,145.9 70.2,142.9" fill="none" stroke="#d84040" stroke-width="0.75"/>
<polygon points="72.6,142.4 75.6,145.4 72.6,148.4 69.6,145.4" fill="none" stroke="#d84040" stroke-width="0.75"/>
<polygon points="71.3,144.8 74.3,147.8 71.3,150.8 68.3,147.8" fill="none" stroke="#d84040" stroke-width="0.75"/>
<polygon points="70.7,147.3 73.7,150.3 70.7,153.3 67.7,150.3" fill="none" stroke="#d84040" stroke-width="0.75"/>
<polygon points="69.5,149.8 72.5,152.8 69.5,155.8 66.5,152.8" fill="none" stroke="#d84040" stroke-width="0.75"/>
<polygon points="68.9,152.2 71.9,155.2 68.9,158.2 65.9,155.2" fill="none" stroke="#d84040" stroke-width="0.75"/>
<polygon points="76.9,136.8 79.9,139.8 76.9,142.8 73.9,139.8" fill="none" stroke="#d84040" stroke-width="0.75"/>
<polygon points="77.5,144.2 80.5,147.2 77.5,150.2 74.5,147.2" fill="none" stroke="#d84040" stroke-width="0.75"/>
<circle cx="80" cy="109" r="2.5" fill="none" stroke="#d84040" stroke-width="0.7"/>
<circle cx="80.6" cy="112.1" r="2.5" fill="none" stroke="#d84040" stroke-width="0.7"/>
<circle cx="69.9" cy="118.9" r="2.5" fill="none" stroke="#d84040" stroke-width="0.7"/>
<circle cx="93.3" cy="121.4" r="2.5" fill="none" stroke="#d84040" stroke-width="0.7"/>
<circle cx="81.8" cy="128.8" r="2.5" fill="none" stroke="#d84040" stroke-width="0.7"/>
<circle cx="92.9" cy="128.8" r="2.5" fill="none" stroke="#d84040" stroke-width="0.7"/>
<circle cx="74.4" cy="130.6" r="2.5" fill="none" stroke="#d84040" stroke-width="0.7"/>
<circle cx="77.5" cy="131.8" r="2.5" fill="none" stroke="#d84040" stroke-width="0.7"/>
<circle cx="82.4" cy="132.4" r="2.5" fill="none" stroke="#d84040" stroke-width="0.7"/>
<circle cx="92.9" cy="130.6" r="2.5" fill="none" stroke="#d84040" stroke-width="0.7"/>
<circle cx="94.8" cy="149.7" r="2.5" fill="none" stroke="#d84040" stroke-width="0.7"/>
<circle cx="88.6" cy="159" r="2.5" fill="none" stroke="#d84040" stroke-width="0.7"/>
<circle cx="87.4" cy="163.9" r="2.5" fill="none" stroke="#d84040" stroke-width="0.7"/>
<circle cx="60.2" cy="152.8" r="2.5" fill="none" stroke="#d84040" stroke-width="0.7"/>
<circle cx="57.8" cy="157.3" r="2.5" fill="none" stroke="#d84040" stroke-width="0.7"/>
<circle cx="59.6" cy="160.2" r="2.5" fill="none" stroke="#d84040" stroke-width="0.7"/>
<circle cx="63.9" cy="165.7" r="2.5" fill="none" stroke="#d84040" stroke-width="0.7"/>
<circle cx="67.6" cy="165.1" r="2.5" fill="none" stroke="#d84040" stroke-width="0.7"/>
<circle cx="57.1" cy="168.8" r="2.5" fill="none" stroke="#d84040" stroke-width="0.7"/>
<circle cx="59" cy="170.7" r="2.5" fill="none" stroke="#d84040" stroke-width="0.7"/>
<circle cx="56.5" cy="172.5" r="2.5" fill="none" stroke="#d84040" stroke-width="0.7"/>
<circle cx="70.1" cy="171.3" r="2.5" fill="none" stroke="#d84040" stroke-width="0.7"/>
<circle cx="58.6" cy="169.4" r="2.5" fill="none" stroke="#d84040" stroke-width="0.7"/>
<circle cx="63.6" cy="166.1" r="2.5" fill="none" stroke="#d84040" stroke-width="0.7"/>
<circle cx="67.4" cy="166.1" r="2.5" fill="none" stroke="#d84040" stroke-width="0.7"/>
<circle cx="69.7" cy="171.1" r="2.5" fill="none" stroke="#d84040" stroke-width="0.7"/>
<circle cx="71.3" cy="175.6" r="2.5" fill="none" stroke="#d84040" stroke-width="0.7"/>
<circle cx="53" cy="180" r="2.5" fill="none" stroke="#d84040" stroke-width="0.7"/>
<circle cx="55.8" cy="179.4" r="2.5" fill="none" stroke="#d84040" stroke-width="0.7"/>
<circle cx="59.1" cy="178.9" r="2.5" fill="none" stroke="#d84040" stroke-width="0.7"/>
<circle cx="54.7" cy="182.2" r="2.5" fill="none" stroke="#d84040" stroke-width="0.7"/>
<circle cx="58" cy="183.3" r="2.5" fill="none" stroke="#d84040" stroke-width="0.7"/>
<circle cx="63" cy="184.4" r="2.5" fill="none" stroke="#d84040" stroke-width="0.7"/>
<circle cx="64.7" cy="185.6" r="2.5" fill="none" stroke="#d84040" stroke-width="0.7"/>
<circle cx="68.6" cy="188.3" r="2.5" fill="none" stroke="#d84040" stroke-width="0.7"/>
<circle cx="57.4" cy="187.8" r="2.5" fill="none" stroke="#d84040" stroke-width="0.7"/>
<circle cx="60.2" cy="188.3" r="2.5" fill="none" stroke="#d84040" stroke-width="0.7"/>
<circle cx="63.6" cy="190.6" r="2.5" fill="none" stroke="#d84040" stroke-width="0.7"/>
<circle cx="56.3" cy="191.7" r="2.5" fill="none" stroke="#d84040" stroke-width="0.7"/>
<circle cx="59.1" cy="192.8" r="2.5" fill="none" stroke="#d84040" stroke-width="0.7"/>
<circle cx="62.4" cy="195" r="2.5" fill="none" stroke="#d84040" stroke-width="0.7"/>
<circle cx="56.3" cy="197.8" r="2.5" fill="none" stroke="#d84040" stroke-width="0.7"/>
<circle cx="56.3" cy="200" r="2.5" fill="none" stroke="#d84040" stroke-width="0.7"/>
<circle cx="60.8" cy="172.2" r="2.5" fill="none" stroke="#d84040" stroke-width="0.7"/>
<circle cx="68.6" cy="173.3" r="2.5" fill="none" stroke="#d84040" stroke-width="0.7"/>
<polygon points="59,56.83 61.1,60.61 56.9,60.61" fill="#000"/>
<polygon points="63.7,62.33 65.8,66.11 61.6,66.11" fill="#000"/>
<polygon points="66.4,64.23 68.5,68.01 64.3,68.01" fill="#000"/>
<polygon points="76.9,50.03 79,53.81 74.8,53.81" fill="#000"/>
<polygon points="79.7,53.13 81.8,56.91 77.6,56.91" fill="#000"/>
<polygon points="78.5,58.63 80.6,62.41 76.4,62.41" fill="#000"/>
<rect x="82.4" y="50.4" width="3.8" height="3.8" fill="#000"/>
<rect x="86.1" y="51.6" width="3.8" height="3.8" fill="#000"/>
<rect x="87.3" y="66.2" width="3.8" height="3.8" fill="#000"/>
<rect x="82.8" y="89.8" width="3.8" height="3.8" fill="#000"/>
<rect x="80.5" y="96.6" width="3.8" height="3.8" fill="#000"/>
<rect x="79.9" y="103.4" width="3.8" height="3.8" fill="#000"/>
<rect x="45" y="123.8" width="3.8" height="3.8" fill="#000"/>
<rect x="45" y="138.2" width="3.8" height="3.8" fill="#000"/>
<rect x="45" y="146.9" width="3.8" height="3.8" fill="#000"/>
<circle cx="81.5" cy="71.4" r="2.4" fill="none" stroke="#111" stroke-width="0.7"/>
<circle cx="94.5" cy="70.8" r="2.4" fill="none" stroke="#111" stroke-width="0.7"/>
<circle cx="95.4" cy="75.7" r="2.4" fill="none" stroke="#111" stroke-width="0.7"/>
<circle cx="98.5" cy="78.2" r="2.4" fill="none" stroke="#111" stroke-width="0.7"/>
<circle cx="84.5" cy="84.8" r="2.4" fill="none" stroke="#111" stroke-width="0.7"/>
<circle cx="83" cy="109.6" r="2.4" fill="none" stroke="#111" stroke-width="0.7"/>
<circle cx="80.6" cy="113.3" r="2.4" fill="none" stroke="#111" stroke-width="0.7"/>
<circle cx="53.4" cy="126.3" r="2.4" fill="none" stroke="#111" stroke-width="0.7"/>
<circle cx="52.2" cy="132.7" r="2.4" fill="none" stroke="#111" stroke-width="0.7"/>
<circle cx="151.3" cy="68.6" r="2.4" fill="none" stroke="#111" stroke-width="0.7"/>
<circle cx="147.8" cy="100.9" r="2.4" fill="none" stroke="#111" stroke-width="0.7"/>
<circle cx="126" cy="123.5" r="2.4" fill="none" stroke="#111" stroke-width="0.7"/>
<circle cx="119.8" cy="132.7" r="2.4" fill="none" stroke="#111" stroke-width="0.7"/>
<circle cx="137.7" cy="131.5" r="2.4" fill="none" stroke="#111" stroke-width="0.7"/>
<circle cx="124.8" cy="142" r="2.4" fill="none" stroke="#111" stroke-width="0.7"/>
<rect x="51.9" y="327.5" width="2.6" height="2.6" fill="#4450f0"/>
<rect x="49.3" y="331.4" width="2.6" height="2.6" fill="#4450f0"/>
<rect x="52.3" y="341.4" width="2.6" height="2.6" fill="#4450f0"/>
<rect x="65.3" y="339.6" width="2.6" height="2.6" fill="#4450f0"/>
<rect x="53.1" y="341.7" width="2.6" height="2.6" fill="#4450f0"/>
<rect x="48.6" y="347.1" width="2.6" height="2.6" fill="#4450f0"/>
<rect x="49.6" y="348.6" width="2.6" height="2.6" fill="#4450f0"/>
<rect x="55" y="351.1" width="2.6" height="2.6" fill="#4450f0"/>
<rect x="59" y="352.1" width="2.6" height="2.6" fill="#4450f0"/>
<rect x="61" y="356" width="2.6" height="2.6" fill="#4450f0"/>
<rect x="52.6" y="358.5" width="2.6" height="2.6" fill="#4450f0"/>
<rect x="57" y="359.5" width="2.6" height="2.6" fill="#4450f0"/>
<rect x="58.5" y="360" width="2.6" height="2.6" fill="#4450f0"/>
<rect x="47.6" y="362.5" width="2.6" height="2.6" fill="#4450f0"/>
<rect x="48.6" y="363.3" width="2.6" height="2.6" fill="#4450f0"/>
<rect x="55" y="363.9" width="2.6" height="2.6" fill="#4450f0"/>
<rect x="58.5" y="363.9" width="2.6" height="2.6" fill="#4450f0"/>
<rect x="59" y="365.5" width="2.6" height="2.6" fill="#4450f0"/>
<rect x="52.6" y="368.2" width="2.6" height="2.6" fill="#4450f0"/>
<rect x="58.5" y="368.4" width="2.6" height="2.6" fill="#4450f0"/>
<rect x="58" y="369.9" width="2.6" height="2.6" fill="#4450f0"/>
<rect x="44.6" y="373.8" width="2.6" height="2.6" fill="#4450f0"/>
<rect x="44.1" y="375.8" width="2.6" height="2.6" fill="#4450f0"/>
<rect x="50.1" y="373.8" width="2.6" height="2.6" fill="#4450f0"/>
<rect x="51.6" y="375.3" width="2.6" height="2.6" fill="#4450f0"/>
<rect x="67.4" y="348.1" width="2.6" height="2.6" fill="#4450f0"/>
<rect x="66.9" y="352.1" width="2.6" height="2.6" fill="#4450f0"/>
<rect x="65.4" y="340.2" width="2.6" height="2.6" fill="#4450f0"/>
<rect x="56.2" y="349.2" width="2.6" height="2.6" fill="#4450f0"/>
<rect x="60.7" y="349.7" width="2.6" height="2.6" fill="#4450f0"/>
<rect x="53.7" y="355.7" width="2.6" height="2.6" fill="#4450f0"/>
<rect x="59.7" y="357.2" width="2.6" height="2.6" fill="#4450f0"/>
<rect x="55.7" y="361.7" width="2.6" height="2.6" fill="#4450f0"/>
<rect x="45.2" y="375.2" width="2.6" height="2.6" fill="#4450f0"/>
<rect x="50.7" y="376.2" width="2.6" height="2.6" fill="#4450f0"/>
<polygon points="59.93,346.12 61.63,349.18 58.23,349.18" fill="#e83a3a"/>
<rect x="64.27" y="346.71" width="2.8" height="2.8" fill="#f02a2a"/>
<rect x="64.27" y="346.14" width="2.8" height="2.8" fill="#f02a2a"/>
<rect x="58.14" y="344.84" width="2.8" height="2.8" fill="#f02a2a"/>
<rect x="52.6" y="348.21" width="2.8" height="2.8" fill="#f02a2a"/>
<circle cx="61.99" cy="352.15" r="2.5" fill="none" stroke="#d84040" stroke-width="0.7"/>
<circle cx="57.26" cy="343.25" r="2.5" fill="none" stroke="#d84040" stroke-width="0.7"/>
<rect x="67.55" y="346.84" width="2.8" height="2.8" fill="#f02a2a"/>
<rect x="60.9" y="345.99" width="2.8" height="2.8" fill="#f02a2a"/>
<polygon points="62.07,340.89 63.77,343.95 60.37,343.95" fill="#e83a3a"/>
<polygon points="58.39,340.11 60.09,343.17 56.69,343.17" fill="#e83a3a"/>
<rect x="60.96" y="344.75" width="2.8" height="2.8" fill="#f02a2a"/>
<rect x="57.72" y="339.51" width="2.8" height="2.8" fill="#f02a2a"/>
<rect x="55.64" y="341.4" width="2.8" height="2.8" fill="#f02a2a"/>
<rect x="61.39" y="336.95" width="2.8" height="2.8" fill="#f02a2a"/>
<circle cx="56.42" cy="342.86" r="2.5" fill="none" stroke="#d84040" stroke-width="0.7"/>
<circle cx="60.55" cy="341.58" r="2.5" fill="none" stroke="#d84040" stroke-width="0.7"/>
<circle cx="64.22" cy="348.87" r="2.5" fill="none" stroke="#d84040" stroke-width="0.7"/>
<rect x="62.41" y="348.64" width="2.8" height="2.8" fill="#f02a2a"/>
<polygon points="57.49,336.55 59.19,339.61 55.79,339.61" fill="#e83a3a"/>
<polygon points="63.58,340.73 65.28,343.79 61.88,343.79" fill="#e83a3a"/>
<polygon points="56.41,340.13 58.11,343.19 54.71,343.19" fill="#e83a3a"/>
<polygon points="66.41,333.91 68.11,336.97 64.71,336.97" fill="#e83a3a"/>
<polygon points="60.24,342.21 61.94,345.27 58.54,345.27" fill="#e83a3a"/>
<rect x="61.1" y="340.57" width="2.8" height="2.8" fill="#f02a2a"/>
<polygon points="60.56,342.77 62.26,345.83 58.86,345.83" fill="#e83a3a"/>
<rect x="60.63" y="346.18" width="2.8" height="2.8" fill="#f02a2a"/>
<rect x="59.85" y="341.59" width="2.8" height="2.8" fill="#f02a2a"/>
<rect x="53.01" y="350.25" width="2.8" height="2.8" fill="#f02a2a"/>
<circle cx="55.96" cy="347.4" r="2.5" fill="none" stroke="#d84040" stroke-width="0.7"/>
<rect x="63.14" y="335.41" width="2.8" height="2.8" fill="#f02a2a"/>
<circle cx="57.59" cy="347.8" r="2.5" fill="none" stroke="#d84040" stroke-width="0.7"/>
<rect x="61.92" y="343.38" width="2.8" height="2.8" fill="#f02a2a"/>
<polygon points="61.35,347.14 63.05,350.2 59.65,350.2" fill="#e83a3a"/>
<rect x="56.82" y="342.11" width="2.8" height="2.8" fill="#f02a2a"/>
<polygon points="57.48,345.91 59.18,348.97 55.78,348.97" fill="#e83a3a"/>
<polygon points="67.16,341.53 68.86,344.59 65.46,344.59" fill="#e83a3a"/>
<rect x="54.94" y="339.25" width="2.8" height="2.8" fill="#f02a2a"/>
<circle cx="66.9" cy="340.57" r="2.5" fill="none" stroke="#d84040" stroke-width="0.7"/>
<rect x="60.84" y="339.52" width="2.8" height="2.8" fill="#f02a2a"/>
<rect x="64.34" y="348.22" width="2.8" height="2.8" fill="#f02a2a"/>
<rect x="62.22" y="345.45" width="2.8" height="2.8" fill="#f02a2a"/>
<rect x="58.86" y="345.43" width="2.8" height="2.8" fill="#f02a2a"/>
<rect x="60.73" y="345.91" width="2.8" height="2.8" fill="#f02a2a"/>
<polygon points="69.44,345.22 71.14,348.28 67.74,348.28" fill="#e83a3a"/>
<rect x="61.51" y="347.04" width="2.8" height="2.8" fill="#f02a2a"/>
<circle cx="59.59" cy="347.35" r="2.5" fill="none" stroke="#d84040" stroke-width="0.7"/>
<polygon points="65.7,343.43 67.4,346.49 64,346.49" fill="#e83a3a"/>
<rect x="61.27" y="345.25" width="2.8" height="2.8" fill="#f02a2a"/>
<rect x="58.87" y="353.08" width="2.8" height="2.8" fill="#f02a2a"/>
<polygon points="58.67,343.19 60.37,346.25 56.97,346.25" fill="#e83a3a"/>
<circle cx="66.07" cy="346.49" r="2.5" fill="none" stroke="#d84040" stroke-width="0.7"/>
<rect x="63.84" y="338.49" width="2.8" height="2.8" fill="#f02a2a"/>
<circle cx="59.3" cy="347.66" r="2.5" fill="none" stroke="#d84040" stroke-width="0.7"/>
<rect x="52.45" y="342.4" width="2.8" height="2.8" fill="#f02a2a"/>
<circle cx="62.29" cy="354.14" r="2.5" fill="none" stroke="#d84040" stroke-width="0.7"/>
<circle cx="65.57" cy="338.55" r="2.5" fill="none" stroke="#d84040" stroke-width="0.7"/>
<polygon points="60.81,340.23 62.51,343.29 59.11,343.29" fill="#e83a3a"/>
<rect x="58.97" y="345.02" width="2.8" height="2.8" fill="#f02a2a"/>
<polygon points="60.4,347.32 62.1,350.38 58.7,350.38" fill="#e83a3a"/>
<circle cx="65.4" cy="344.09" r="2.5" fill="none" stroke="#d84040" stroke-width="0.7"/>
<rect x="57.64" y="346.65" width="2.8" height="2.8" fill="#f02a2a"/>
<polygon points="61.93,346.73 63.63,349.79 60.23,349.79" fill="#e83a3a"/>
<polygon points="67.52,338.27 69.22,341.33 65.82,341.33" fill="#e83a3a"/>
<rect x="55.29" y="337.04" width="2.8" height="2.8" fill="#f02a2a"/>
<circle cx="56.09" cy="336.59" r="2.5" fill="none" stroke="#d84040" stroke-width="0.7"/>
<rect x="59.6" y="338.63" width="2.8" height="2.8" fill="#f02a2a"/>
<rect x="219.75" y="241.25" width="2.5" height="2.5" fill="#f06a6a"/>
<rect x="152.55" y="251.85" width="2.5" height="2.5" fill="#f06a6a"/>
<rect x="146.85" y="259.95" width="2.5" height="2.5" fill="#f06a6a"/>
<rect x="141.95" y="260.45" width="2.5" height="2.5" fill="#f06a6a"/>
<rect x="167.15" y="263.45" width="2.5" height="2.5" fill="#f06a6a"/>
<rect x="161.75" y="265.95" width="2.5" height="2.5" fill="#f06a6a"/>
<rect x="172.85" y="264.15" width="2.5" height="2.5" fill="#f06a6a"/>
<rect x="175.25" y="262.25" width="2.5" height="2.5" fill="#f06a6a"/>
<rect x="166.65" y="272.35" width="2.5" height="2.5" fill="#f06a6a"/>
<rect x="148.15" y="277.25" width="2.5" height="2.5" fill="#f06a6a"/>
<rect x="156.75" y="277.75" width="2.5" height="2.5" fill="#f06a6a"/>
<rect x="152.55" y="278.95" width="2.5" height="2.5" fill="#f06a6a"/>
<rect x="158.75" y="278.95" width="2.5" height="2.5" fill="#f06a6a"/>
<rect x="143.15" y="286.45" width="2.5" height="2.5" fill="#f06a6a"/>
<rect x="123.45" y="279.75" width="2.5" height="2.5" fill="#f06a6a"/>
<rect x="114.05" y="288.85" width="2.5" height="2.5" fill="#f06a6a"/>
<rect x="119.15" y="311.75" width="2.5" height="2.5" fill="#f06a6a"/>
<polygon points="67.6,354.87 69.2,357.75 66,357.75" fill="#e83a3a"/>
<polygon points="68.9,351.77 70.5,354.65 67.3,354.65" fill="#e83a3a"/>
<polygon points="50.3,344.37 51.9,347.25 48.7,347.25" fill="#e83a3a"/>
<circle cx="74.4" cy="252.5" r="2.5" fill="none" stroke="#d84040" stroke-width="0.7"/>
<circle cx="75" cy="255.6" r="2.5" fill="none" stroke="#d84040" stroke-width="0.7"/>
<circle cx="76.3" cy="259.9" r="2.5" fill="none" stroke="#d84040" stroke-width="0.7"/>
<circle cx="81.8" cy="253.7" r="2.5" fill="none" stroke="#d84040" stroke-width="0.7"/>
<circle cx="94.8" cy="255.6" r="2.5" fill="none" stroke="#d84040" stroke-width="0.7"/>
<circle cx="94.2" cy="258.6" r="2.5" fill="none" stroke="#d84040" stroke-width="0.7"/>
<circle cx="92.3" cy="261.1" r="2.5" fill="none" stroke="#d84040" stroke-width="0.7"/>
<circle cx="88.6" cy="263.6" r="2.5" fill="none" stroke="#d84040" stroke-width="0.7"/>
<circle cx="88" cy="266" r="2.5" fill="none" stroke="#d84040" stroke-width="0.7"/>
<circle cx="54.1" cy="329.3" r="2.5" fill="none" stroke="#d84040" stroke-width="0.7"/>
<circle cx="55.4" cy="332.3" r="2.5" fill="none" stroke="#d84040" stroke-width="0.7"/>
<circle cx="55.8" cy="335.7" r="2.5" fill="none" stroke="#d84040" stroke-width="0.7"/>
<circle cx="58.8" cy="324.5" r="2.5" fill="none" stroke="#d84040" stroke-width="0.7"/>
<circle cx="62.3" cy="337.9" r="2.5" fill="none" stroke="#d84040" stroke-width="0.7"/>
<circle cx="64.9" cy="334" r="2.5" fill="none" stroke="#d84040" stroke-width="0.7"/>
<circle cx="68.3" cy="340.9" r="2.5" fill="none" stroke="#d84040" stroke-width="0.7"/>
<circle cx="61.9" cy="330.6" r="2.5" fill="none" stroke="#d84040" stroke-width="0.7"/>
<circle cx="50.9" cy="354.9" r="2.5" fill="none" stroke="#d84040" stroke-width="0.7"/>
<circle cx="53.4" cy="355.8" r="2.5" fill="none" stroke="#d84040" stroke-width="0.7"/>
<circle cx="52.8" cy="355.4" r="2.5" fill="none" stroke="#d84040" stroke-width="0.7"/>
<circle cx="55.3" cy="336.2" r="2.5" fill="none" stroke="#d84040" stroke-width="0.7"/>
<polygon points="83,294.5 86,297.5 83,300.5 80,297.5" fill="none" stroke="#d84040" stroke-width="0.75"/>
<polygon points="83,297.6 86,300.6 83,303.6 80,300.6" fill="none" stroke="#d84040" stroke-width="0.75"/>
<polygon points="81.2,300.6 84.2,303.6 81.2,306.6 78.2,303.6" fill="none" stroke="#d84040" stroke-width="0.75"/>
<polygon points="80.6,303.7 83.6,306.7 80.6,309.7 77.6,306.7" fill="none" stroke="#d84040" stroke-width="0.75"/>
<polygon points="80.6,306.8 83.6,309.8 80.6,312.8 77.6,309.8" fill="none" stroke="#d84040" stroke-width="0.75"/>
<polygon points="80,309.9 83,312.9 80,315.9 77,312.9" fill="none" stroke="#d84040" stroke-width="0.75"/>
<polygon points="78.7,313 81.7,316 78.7,319 75.7,316" fill="none" stroke="#d84040" stroke-width="0.75"/>
<polygon points="77.5,316.7 80.5,319.7 77.5,322.7 74.5,319.7" fill="none" stroke="#d84040" stroke-width="0.75"/>
<polygon points="78.7,317.9 81.7,320.9 78.7,323.9 75.7,320.9" fill="none" stroke="#d84040" stroke-width="0.75"/>
<polygon points="73.8,320.4 76.8,323.4 73.8,326.4 70.8,323.4" fill="none" stroke="#d84040" stroke-width="0.75"/>
<polygon points="73.2,324.1 76.2,327.1 73.2,330.1 70.2,327.1" fill="none" stroke="#d84040" stroke-width="0.75"/>
<polygon points="72.6,327.2 75.6,330.2 72.6,333.2 69.6,330.2" fill="none" stroke="#d84040" stroke-width="0.75"/>
<polygon points="73.8,329 76.8,332 73.8,335 70.8,332" fill="none" stroke="#d84040" stroke-width="0.75"/>
<polygon points="76.3,334 79.3,337 76.3,340 73.3,337" fill="none" stroke="#d84040" stroke-width="0.75"/>
<polygon points="75,311.8 78,314.8 75,317.8 72,314.8" fill="none" stroke="#d84040" stroke-width="0.75"/>
<polygon points="68.2,316 71.2,319 68.2,322 65.2,319" fill="none" stroke="#d84040" stroke-width="0.75"/>
<polygon points="70.1,322.9 73.1,325.9 70.1,328.9 67.1,325.9" fill="none" stroke="#d84040" stroke-width="0.75"/>
<polygon points="75.7,334.5 78.7,337.5 75.7,340.5 72.7,337.5" fill="none" stroke="#d84040" stroke-width="0.75"/>
<polygon points="70,328 73,331 70,334 67,331" fill="none" stroke="#d84040" stroke-width="0.75"/>
<polygon points="66,325 69,328 66,331 63,328" fill="none" stroke="#d84040" stroke-width="0.75"/>
<polygon points="67.9,315.5 70.9,318.5 67.9,321.5 64.9,318.5" fill="none" stroke="#d84040" stroke-width="0.75"/>
<polygon points="70.9,318.5 73.9,321.5 70.9,324.5 67.9,321.5" fill="none" stroke="#d84040" stroke-width="0.75"/>
<polygon points="70.1,323.2 73.1,326.2 70.1,329.2 67.1,326.2" fill="none" stroke="#d84040" stroke-width="0.75"/>
<polygon points="73.5,326.3 76.5,329.3 73.5,332.3 70.5,329.3" fill="none" stroke="#d84040" stroke-width="0.75"/>
<polygon points="75.3,334.5 78.3,337.5 75.3,340.5 72.3,337.5" fill="none" stroke="#d84040" stroke-width="0.75"/>
<polygon points="77,331 80,334 77,337 74,334" fill="none" stroke="#d84040" stroke-width="0.75"/>
<polygon points="77.8,317.2 80.8,320.2 77.8,323.2 74.8,320.2" fill="none" stroke="#d84040" stroke-width="0.75"/>
<polygon points="73.5,320.6 76.5,323.6 73.5,326.6 70.5,323.6" fill="none" stroke="#d84040" stroke-width="0.75"/>
<polygon points="63.7,240.93 65.8,244.71 61.6,244.71" fill="#000"/>
<polygon points="66.4,241.53 68.5,245.31 64.3,245.31" fill="#000"/>
<polygon points="58.4,249.53 60.5,253.31 56.3,253.31" fill="#000"/>
<polygon points="78.7,262.53 80.8,266.31 76.6,266.31" fill="#000"/>
<polygon points="76.9,266.23 79,270.01 74.8,270.01" fill="#000"/>
<rect x="85.5" y="230.8" width="3.8" height="3.8" fill="#000"/>
<rect x="87.7" y="231.8" width="3.8" height="3.8" fill="#000"/>
<rect x="82.8" y="236.3" width="3.8" height="3.8" fill="#000"/>
<rect x="81.8" y="287" width="3.8" height="3.8" fill="#000"/>
<rect x="83.6" y="286.4" width="3.8" height="3.8" fill="#000"/>
<rect x="44.8" y="322.6" width="3.8" height="3.8" fill="#000"/>
<circle cx="98.5" cy="254.3" r="2.4" fill="none" stroke="#111" stroke-width="0.7"/>
<circle cx="96" cy="255.5" r="2.4" fill="none" stroke="#111" stroke-width="0.7"/>
<circle cx="83" cy="276.5" r="2.4" fill="none" stroke="#111" stroke-width="0.7"/>
<circle cx="81.8" cy="282.7" r="2.4" fill="none" stroke="#111" stroke-width="0.7"/>
<circle cx="81.8" cy="285.8" r="2.4" fill="none" stroke="#111" stroke-width="0.7"/>
<circle cx="54.1" cy="320.2" r="2.4" fill="none" stroke="#111" stroke-width="0.7"/>
<circle cx="53.2" cy="324.5" r="2.4" fill="none" stroke="#111" stroke-width="0.7"/>
<circle cx="151.1" cy="217.8" r="2.4" fill="none" stroke="#111" stroke-width="0.7"/>
<circle cx="125.9" cy="242" r="2.4" fill="none" stroke="#111" stroke-width="0.7"/>
<circle cx="120.2" cy="251.1" r="2.4" fill="none" stroke="#111" stroke-width="0.7"/>
<circle cx="137.5" cy="246.9" r="2.4" fill="none" stroke="#111" stroke-width="0.7"/>
<circle cx="148.1" cy="234.6" r="2.4" fill="none" stroke="#111" stroke-width="0.7"/>
<circle cx="124.7" cy="263.7" r="2.4" fill="none" stroke="#111" stroke-width="0.7"/>
<rect x="305.3" y="60" width="2.6" height="2.6" fill="#4450f0"/>
<rect x="322.1" y="80.7" width="2.6" height="2.6" fill="#4450f0"/>
<rect x="326.2" y="83.5" width="2.6" height="2.6" fill="#4450f0"/>
<rect x="320.5" y="85.5" width="2.6" height="2.6" fill="#4450f0"/>
<rect x="273.9" y="96.4" width="2.6" height="2.6" fill="#4450f0"/>
<rect x="276.6" y="94.3" width="2.6" height="2.6" fill="#4450f0"/>
<rect x="290.2" y="95" width="2.6" height="2.6" fill="#4450f0"/>
<rect x="330" y="93.4" width="2.6" height="2.6" fill="#4450f0"/>
<rect x="297" y="100.2" width="2.6" height="2.6" fill="#4450f0"/>
<rect x="300.4" y="103.2" width="2.6" height="2.6" fill="#4450f0"/>
<rect x="308.5" y="103.2" width="2.6" height="2.6" fill="#4450f0"/>
<rect x="326.2" y="99.8" width="2.6" height="2.6" fill="#4450f0"/>
<rect x="328.2" y="102.5" width="2.6" height="2.6" fill="#4450f0"/>
<rect x="328.9" y="106.6" width="2.6" height="2.6" fill="#4450f0"/>
<rect x="311.3" y="107.9" width="2.6" height="2.6" fill="#4450f0"/>
<rect x="307.2" y="112" width="2.6" height="2.6" fill="#4450f0"/>
<rect x="282.7" y="114.7" width="2.6" height="2.6" fill="#4450f0"/>
<rect x="288.2" y="116.1" width="2.6" height="2.6" fill="#4450f0"/>
<rect x="292.2" y="112.7" width="2.6" height="2.6" fill="#4450f0"/>
<rect x="297" y="114" width="2.6" height="2.6" fill="#4450f0"/>
<rect x="297.7" y="116.7" width="2.6" height="2.6" fill="#4450f0"/>
<rect x="301.1" y="119.5" width="2.6" height="2.6" fill="#4450f0"/>
<rect x="311.3" y="118.8" width="2.6" height="2.6" fill="#4450f0"/>
<rect x="314.7" y="118.1" width="2.6" height="2.6" fill="#4450f0"/>
<rect x="312.6" y="114" width="2.6" height="2.6" fill="#4450f0"/>
<rect x="316.7" y="120.1" width="2.6" height="2.6" fill="#4450f0"/>
<rect x="318" y="119.5" width="2.6" height="2.6" fill="#4450f0"/>
<rect x="320.1" y="122.2" width="2.6" height="2.6" fill="#4450f0"/>
<rect x="333.7" y="114" width="2.6" height="2.6" fill="#4450f0"/>
<rect x="333.7" y="121.5" width="2.6" height="2.6" fill="#4450f0"/>
<rect x="339.1" y="118.8" width="2.6" height="2.6" fill="#4450f0"/>
<rect x="286.1" y="124.2" width="2.6" height="2.6" fill="#4450f0"/>
<rect x="289.5" y="122.9" width="2.6" height="2.6" fill="#4450f0"/>
<rect x="297.7" y="122.9" width="2.6" height="2.6" fill="#4450f0"/>
<rect x="309.9" y="125.6" width="2.6" height="2.6" fill="#4450f0"/>
<rect x="308.5" y="129" width="2.6" height="2.6" fill="#4450f0"/>
<rect x="312.6" y="127.6" width="2.6" height="2.6" fill="#4450f0"/>
<rect x="319.4" y="126.9" width="2.6" height="2.6" fill="#4450f0"/>
<rect x="318" y="129" width="2.6" height="2.6" fill="#4450f0"/>
<rect x="322.1" y="131" width="2.6" height="2.6" fill="#4450f0"/>
<rect x="314" y="131" width="2.6" height="2.6" fill="#4450f0"/>
<rect x="298.9" y="139.5" width="2.6" height="2.6" fill="#4450f0"/>
<rect x="291.2" y="150.7" width="2.6" height="2.6" fill="#4450f0"/>
<rect x="341.2" y="154.1" width="2.6" height="2.6" fill="#4450f0"/>
<rect x="349" y="149.8" width="2.6" height="2.6" fill="#4450f0"/>
<rect x="344.7" y="152.4" width="2.6" height="2.6" fill="#4450f0"/>
<rect x="319.7" y="158.5" width="2.6" height="2.6" fill="#4450f0"/>
<rect x="339.5" y="118.7" width="2.6" height="2.6" fill="#4450f0"/>
<rect x="333.5" y="121.3" width="2.6" height="2.6" fill="#4450f0"/>
<rect x="311.8" y="162.8" width="2.6" height="2.6" fill="#4450f0"/>
<rect x="318.5" y="156.8" width="2.6" height="2.6" fill="#4450f0"/>
<rect x="320.7" y="170.9" width="2.6" height="2.6" fill="#4450f0"/>
<rect x="324.4" y="170.9" width="2.6" height="2.6" fill="#4450f0"/>
<rect x="340.7" y="155.4" width="2.6" height="2.6" fill="#4450f0"/>
<rect x="325.9" y="171.7" width="2.6" height="2.6" fill="#4450f0"/>
<rect x="333.6" y="121.2" width="2.6" height="2.6" fill="#4450f0"/>
<rect x="340.4" y="118.7" width="2.6" height="2.6" fill="#4450f0"/>
<rect x="348.5" y="150.2" width="2.6" height="2.6" fill="#4450f0"/>
<rect x="344.7" y="155.7" width="2.6" height="2.6" fill="#4450f0"/>
<rect x="298.9" y="101.5" width="2.6" height="2.6" fill="#4450f0"/>
<rect x="309.3" y="102.3" width="2.6" height="2.6" fill="#4450f0"/>
<rect x="311" y="108.4" width="2.6" height="2.6" fill="#4450f0"/>
<rect x="325.7" y="99.7" width="2.6" height="2.6" fill="#4450f0"/>
<rect x="315.3" y="127.4" width="2.6" height="2.6" fill="#4450f0"/>
<rect x="320.5" y="127.4" width="2.6" height="2.6" fill="#4450f0"/>
<rect x="319.7" y="132.6" width="2.6" height="2.6" fill="#4450f0"/>
<rect x="324" y="134.8" width="2.6" height="2.6" fill="#4450f0"/>
<rect x="309.3" y="125.7" width="2.6" height="2.6" fill="#4450f0"/>
<rect x="310.2" y="129.1" width="2.6" height="2.6" fill="#4450f0"/>
<rect x="296.3" y="115.3" width="2.6" height="2.6" fill="#4450f0"/>
<rect x="292" y="112.7" width="2.6" height="2.6" fill="#4450f0"/>
<rect x="300.7" y="119.6" width="2.6" height="2.6" fill="#4450f0"/>
<rect x="307.6" y="112.7" width="2.6" height="2.6" fill="#4450f0"/>
<rect x="312.7" y="113.6" width="2.6" height="2.6" fill="#4450f0"/>
<rect x="311" y="119.6" width="2.6" height="2.6" fill="#4450f0"/>
<rect x="314.5" y="117.9" width="2.6" height="2.6" fill="#4450f0"/>
<rect x="317.1" y="120.5" width="2.6" height="2.6" fill="#4450f0"/>
<rect x="320.5" y="121.3" width="2.6" height="2.6" fill="#4450f0"/>
<rect x="289.4" y="122.2" width="2.6" height="2.6" fill="#4450f0"/>
<rect x="373.25" y="87.35" width="2.5" height="2.5" fill="#f06a6a"/>
<rect x="402.35" y="63.45" width="2.5" height="2.5" fill="#f06a6a"/>
<rect x="373.55" y="98.35" width="2.5" height="2.5" fill="#f06a6a"/>
<rect x="360.25" y="105.05" width="2.5" height="2.5" fill="#f06a6a"/>
<rect x="366.15" y="110.25" width="2.5" height="2.5" fill="#f06a6a"/>
<rect x="367.65" y="109.45" width="2.5" height="2.5" fill="#f06a6a"/>
<rect x="373.55" y="88.75" width="2.5" height="2.5" fill="#f06a6a"/>
<rect x="305.25" y="192.45" width="2.5" height="2.5" fill="#f06a6a"/>
<rect x="322.25" y="158.35" width="2.5" height="2.5" fill="#f06a6a"/>
<rect x="333.35" y="150.25" width="2.5" height="2.5" fill="#f06a6a"/>
<polygon points="302.8,108.87 304.4,111.75 301.2,111.75" fill="#e83a3a"/>
<polygon points="305.8,112.87 307.4,115.75 304.2,115.75" fill="#e83a3a"/>
<polygon points="289.5,121.77 291.1,124.65 287.9,124.65" fill="#e83a3a"/>
<polygon points="314,133.87 315.6,136.75 312.4,136.75" fill="#e83a3a"/>
<polygon points="315.8,139.87 317.4,142.75 314.2,142.75" fill="#e83a3a"/>
<polygon points="346.9,132.17 348.5,135.05 345.3,135.05" fill="#e83a3a"/>
<polygon points="354.3,139.57 355.9,142.45 352.7,142.45" fill="#e83a3a"/>
<polygon points="335.6,148.57 337.2,151.45 334,151.45" fill="#e83a3a"/>
<polygon points="329.6,150.27 331.2,153.15 328,153.15" fill="#e83a3a"/>
<polygon points="361.5,104.97 363.1,107.85 359.9,107.85" fill="#e83a3a"/>
<polygon points="367.6,109.67 369.2,112.55 366,112.55" fill="#e83a3a"/>
<polygon points="346.7,131.87 348.3,134.75 345.1,134.75" fill="#e83a3a"/>
<polygon points="347.3,134.27 348.9,137.15 345.7,137.15" fill="#e83a3a"/>
<polygon points="354.7,140.47 356.3,143.35 353.1,143.35" fill="#e83a3a"/>
<polygon points="334.9,148.47 336.5,151.35 333.3,151.35" fill="#e83a3a"/>
<polygon points="336.8,149.77 338.4,152.65 335.2,152.65" fill="#e83a3a"/>
<polygon points="346,158.37 347.6,161.25 344.4,161.25" fill="#e83a3a"/>
<polygon points="400,89.2 403,92.2 400,95.2 397,92.2" fill="none" stroke="#d84040" stroke-width="0.75"/>
<polygon points="391.9,94.4 394.9,97.4 391.9,100.4 388.9,97.4" fill="none" stroke="#d84040" stroke-width="0.75"/>
<polygon points="397,93.7 400,96.7 397,99.7 394,96.7" fill="none" stroke="#d84040" stroke-width="0.75"/>
<polygon points="402.2,98.1 405.2,101.1 402.2,104.1 399.2,101.1" fill="none" stroke="#d84040" stroke-width="0.75"/>
<polygon points="394.1,101.8 397.1,104.8 394.1,107.8 391.1,104.8" fill="none" stroke="#d84040" stroke-width="0.75"/>
<polygon points="391.1,106.3 394.1,109.3 391.1,112.3 388.1,109.3" fill="none" stroke="#d84040" stroke-width="0.75"/>
<polygon points="390.4,109.2 393.4,112.2 390.4,115.2 387.4,112.2" fill="none" stroke="#d84040" stroke-width="0.75"/>
<polygon points="393.3,108.5 396.3,111.5 393.3,114.5 390.3,111.5" fill="none" stroke="#d84040" stroke-width="0.75"/>
<polygon points="383.7,118.9 386.7,121.9 383.7,124.9 380.7,121.9" fill="none" stroke="#d84040" stroke-width="0.75"/>
<polygon points="389.6,120.3 392.6,123.3 389.6,126.3 386.6,123.3" fill="none" stroke="#d84040" stroke-width="0.75"/>
<polygon points="377.8,130 380.8,133 377.8,136 374.8,133" fill="none" stroke="#d84040" stroke-width="0.75"/>
<polygon points="366.7,134.4 369.7,137.4 366.7,140.4 363.7,137.4" fill="none" stroke="#d84040" stroke-width="0.75"/>
<polygon points="371.1,133.7 374.1,136.7 371.1,139.7 368.1,136.7" fill="none" stroke="#d84040" stroke-width="0.75"/>
<polygon points="375.6,135.9 378.6,138.9 375.6,141.9 372.6,138.9" fill="none" stroke="#d84040" stroke-width="0.75"/>
<polygon points="378.5,137.4 381.5,140.4 378.5,143.4 375.5,140.4" fill="none" stroke="#d84040" stroke-width="0.75"/>
<polygon points="373.3,139.6 376.3,142.6 373.3,145.6 370.3,142.6" fill="none" stroke="#d84040" stroke-width="0.75"/>
<polygon points="368.9,138.9 371.9,141.9 368.9,144.9 365.9,141.9" fill="none" stroke="#d84040" stroke-width="0.75"/>
<polygon points="364.4,143.3 367.4,146.3 364.4,149.3 361.4,146.3" fill="none" stroke="#d84040" stroke-width="0.75"/>
<polygon points="333.9,182.6 336.9,185.6 333.9,188.6 330.9,185.6" fill="none" stroke="#d84040" stroke-width="0.75"/>
<polygon points="337.6,184.8 340.6,187.8 337.6,190.8 334.6,187.8" fill="none" stroke="#d84040" stroke-width="0.75"/>
<polygon points="333.1,187 336.1,190 333.1,193 330.1,190" fill="none" stroke="#d84040" stroke-width="0.75"/>
<polygon points="336.9,188.5 339.9,191.5 336.9,194.5 333.9,191.5" fill="none" stroke="#d84040" stroke-width="0.75"/>
<polygon points="375.7,130 378.7,133 375.7,136 372.7,133" fill="none" stroke="#d84040" stroke-width="0.75"/>
<polygon points="378.8,132.4 381.8,135.4 378.8,138.4 375.8,135.4" fill="none" stroke="#d84040" stroke-width="0.75"/>
<polygon points="375.7,136.8 378.7,139.8 375.7,142.8 372.7,139.8" fill="none" stroke="#d84040" stroke-width="0.75"/>
<polygon points="373.2,140.5 376.2,143.5 373.2,146.5 370.2,143.5" fill="none" stroke="#d84040" stroke-width="0.75"/>
<polygon points="351.6,150.3 354.6,153.3 351.6,156.3 348.6,153.3" fill="none" stroke="#d84040" stroke-width="0.75"/>
<polygon points="350.4,153.4 353.4,156.4 350.4,159.4 347.4,156.4" fill="none" stroke="#d84040" stroke-width="0.75"/>
<circle cx="355.6" cy="118.9" r="2.5" fill="none" stroke="#d84040" stroke-width="0.7"/>
<circle cx="397.8" cy="129.3" r="2.5" fill="none" stroke="#d84040" stroke-width="0.7"/>
<circle cx="397.8" cy="133" r="2.5" fill="none" stroke="#d84040" stroke-width="0.7"/>
<circle cx="370.4" cy="131.5" r="2.5" fill="none" stroke="#d84040" stroke-width="0.7"/>
<circle cx="376.3" cy="147" r="2.5" fill="none" stroke="#d84040" stroke-width="0.7"/>
<circle cx="325.3" cy="152.9" r="2.5" fill="none" stroke="#d84040" stroke-width="0.7"/>
<circle cx="315.8" cy="157.2" r="2.5" fill="none" stroke="#d84040" stroke-width="0.7"/>
<circle cx="320.1" cy="158" r="2.5" fill="none" stroke="#d84040" stroke-width="0.7"/>
<circle cx="321.8" cy="160.6" r="2.5" fill="none" stroke="#d84040" stroke-width="0.7"/>
<circle cx="433.8" cy="121.7" r="2.5" fill="none" stroke="#d84040" stroke-width="0.7"/>
<circle cx="431.9" cy="129.3" r="2.5" fill="none" stroke="#d84040" stroke-width="0.7"/>
<circle cx="432.4" cy="130.8" r="2.5" fill="none" stroke="#d84040" stroke-width="0.7"/>
<circle cx="439.2" cy="150.2" r="2.5" fill="none" stroke="#d84040" stroke-width="0.7"/>
<circle cx="418.3" cy="159.2" r="2.5" fill="none" stroke="#d84040" stroke-width="0.7"/>
<circle cx="414.8" cy="164.6" r="2.5" fill="none" stroke="#d84040" stroke-width="0.7"/>
<circle cx="348.3" cy="165.9" r="2.5" fill="none" stroke="#d84040" stroke-width="0.7"/>
<circle cx="349.8" cy="188.9" r="2.5" fill="none" stroke="#d84040" stroke-width="0.7"/>
<circle cx="354.3" cy="171.1" r="2.5" fill="none" stroke="#d84040" stroke-width="0.7"/>
<circle cx="315.4" cy="157.4" r="2.5" fill="none" stroke="#d84040" stroke-width="0.7"/>
<circle cx="317.6" cy="158.9" r="2.5" fill="none" stroke="#d84040" stroke-width="0.7"/>
<circle cx="321.3" cy="160.4" r="2.5" fill="none" stroke="#d84040" stroke-width="0.7"/>
<circle cx="325.7" cy="153" r="2.5" fill="none" stroke="#d84040" stroke-width="0.7"/>
<circle cx="334.6" cy="165.6" r="2.5" fill="none" stroke="#d84040" stroke-width="0.7"/>
<circle cx="309.4" cy="170.7" r="2.5" fill="none" stroke="#d84040" stroke-width="0.7"/>
<circle cx="313.9" cy="172.2" r="2.5" fill="none" stroke="#d84040" stroke-width="0.7"/>
<circle cx="317.6" cy="170" r="2.5" fill="none" stroke="#d84040" stroke-width="0.7"/>
<circle cx="321.3" cy="173" r="2.5" fill="none" stroke="#d84040" stroke-width="0.7"/>
<circle cx="304.3" cy="180.4" r="2.5" fill="none" stroke="#d84040" stroke-width="0.7"/>
<circle cx="300.6" cy="181.1" r="2.5" fill="none" stroke="#d84040" stroke-width="0.7"/>
<circle cx="311.7" cy="179.6" r="2.5" fill="none" stroke="#d84040" stroke-width="0.7"/>
<circle cx="316.1" cy="178.9" r="2.5" fill="none" stroke="#d84040" stroke-width="0.7"/>
<circle cx="319.8" cy="178.9" r="2.5" fill="none" stroke="#d84040" stroke-width="0.7"/>
<circle cx="316.9" cy="182.6" r="2.5" fill="none" stroke="#d84040" stroke-width="0.7"/>
<circle cx="320.6" cy="185.6" r="2.5" fill="none" stroke="#d84040" stroke-width="0.7"/>
<circle cx="313.9" cy="187.8" r="2.5" fill="none" stroke="#d84040" stroke-width="0.7"/>
<circle cx="315.4" cy="190" r="2.5" fill="none" stroke="#d84040" stroke-width="0.7"/>
<circle cx="319.1" cy="190" r="2.5" fill="none" stroke="#d84040" stroke-width="0.7"/>
<circle cx="311.7" cy="192.2" r="2.5" fill="none" stroke="#d84040" stroke-width="0.7"/>
<circle cx="316.1" cy="193" r="2.5" fill="none" stroke="#d84040" stroke-width="0.7"/>
<circle cx="320.6" cy="193.7" r="2.5" fill="none" stroke="#d84040" stroke-width="0.7"/>
<circle cx="329.4" cy="184.8" r="2.5" fill="none" stroke="#d84040" stroke-width="0.7"/>
<circle cx="330.2" cy="191.5" r="2.5" fill="none" stroke="#d84040" stroke-width="0.7"/>
<circle cx="313.9" cy="194.4" r="2.5" fill="none" stroke="#d84040" stroke-width="0.7"/>
<circle cx="370.7" cy="131.7" r="2.5" fill="none" stroke="#d84040" stroke-width="0.7"/>
<circle cx="366.4" cy="137.3" r="2.5" fill="none" stroke="#d84040" stroke-width="0.7"/>
<circle cx="369.5" cy="136" r="2.5" fill="none" stroke="#d84040" stroke-width="0.7"/>
<circle cx="365.2" cy="141.6" r="2.5" fill="none" stroke="#d84040" stroke-width="0.7"/>
<circle cx="362.7" cy="145.9" r="2.5" fill="none" stroke="#d84040" stroke-width="0.7"/>
<circle cx="361.5" cy="149.6" r="2.5" fill="none" stroke="#d84040" stroke-width="0.7"/>
<circle cx="364.6" cy="147.2" r="2.5" fill="none" stroke="#d84040" stroke-width="0.7"/>
<circle cx="376.3" cy="147.8" r="2.5" fill="none" stroke="#d84040" stroke-width="0.7"/>
<circle cx="348.5" cy="165.7" r="2.5" fill="none" stroke="#d84040" stroke-width="0.7"/>
<circle cx="334.9" cy="166.3" r="2.5" fill="none" stroke="#d84040" stroke-width="0.7"/>
<polygon points="317.8,57.33 319.9,61.11 315.7,61.11" fill="#000"/>
<polygon points="335.1,63.23 337.2,67.01 333,67.01" fill="#000"/>
<polygon points="342.6,65.03 344.7,68.81 340.5,68.81" fill="#000"/>
<polygon points="378.5,50.13 380.6,53.91 376.4,53.91" fill="#000"/>
<polygon points="388,53.33 390.1,57.11 385.9,57.11" fill="#000"/>
<polygon points="384.4,59.63 386.5,63.41 382.3,63.41" fill="#000"/>
<rect x="403.3" y="50.8" width="3.8" height="3.8" fill="#000"/>
<rect x="413" y="52" width="3.8" height="3.8" fill="#000"/>
<rect x="418.6" y="66.8" width="3.8" height="3.8" fill="#000"/>
<rect x="405.4" y="90.1" width="3.8" height="3.8" fill="#000"/>
<rect x="395.1" y="97.7" width="3.8" height="3.8" fill="#000"/>
<rect x="395.9" y="103.7" width="3.8" height="3.8" fill="#000"/>
<rect x="278.1" y="124.2" width="3.8" height="3.8" fill="#000"/>
<rect x="278.1" y="138.4" width="3.8" height="3.8" fill="#000"/>
<rect x="278.1" y="148" width="3.8" height="3.8" fill="#000"/>
<circle cx="393.9" cy="71.9" r="2.4" fill="none" stroke="#111" stroke-width="0.7"/>
<circle cx="405.2" cy="85.6" r="2.4" fill="none" stroke="#111" stroke-width="0.7"/>
<circle cx="437.4" cy="71.6" r="2.4" fill="none" stroke="#111" stroke-width="0.7"/>
<circle cx="441.4" cy="77.1" r="2.4" fill="none" stroke="#111" stroke-width="0.7"/>
<circle cx="448.6" cy="78.7" r="2.4" fill="none" stroke="#111" stroke-width="0.7"/>
<circle cx="399.3" cy="110.7" r="2.4" fill="none" stroke="#111" stroke-width="0.7"/>
<circle cx="391.9" cy="113" r="2.4" fill="none" stroke="#111" stroke-width="0.7"/>
<circle cx="302.8" cy="126.2" r="2.4" fill="none" stroke="#111" stroke-width="0.7"/>
<circle cx="296.6" cy="132.8" r="2.4" fill="none" stroke="#111" stroke-width="0.7"/>
<rect x="298.5" y="328.3" width="2.6" height="2.6" fill="#4450f0"/>
<rect x="290.1" y="332" width="2.6" height="2.6" fill="#4450f0"/>
<rect x="300.7" y="342" width="2.6" height="2.6" fill="#4450f0"/>
<rect x="287.4" y="348" width="2.6" height="2.6" fill="#4450f0"/>
<rect x="290.4" y="347.2" width="2.6" height="2.6" fill="#4450f0"/>
<rect x="283" y="362.8" width="2.6" height="2.6" fill="#4450f0"/>
<rect x="285.9" y="364.3" width="2.6" height="2.6" fill="#4450f0"/>
<rect x="297" y="359.1" width="2.6" height="2.6" fill="#4450f0"/>
<rect x="300.7" y="359.8" width="2.6" height="2.6" fill="#4450f0"/>
<rect x="308.1" y="347.2" width="2.6" height="2.6" fill="#4450f0"/>
<rect x="306.7" y="350.9" width="2.6" height="2.6" fill="#4450f0"/>
<rect x="309.6" y="351.7" width="2.6" height="2.6" fill="#4450f0"/>
<rect x="312.6" y="351.7" width="2.6" height="2.6" fill="#4450f0"/>
<rect x="308.9" y="359.1" width="2.6" height="2.6" fill="#4450f0"/>
<rect x="312.6" y="359.8" width="2.6" height="2.6" fill="#4450f0"/>
<rect x="317.8" y="359.8" width="2.6" height="2.6" fill="#4450f0"/>
<rect x="320" y="359.8" width="2.6" height="2.6" fill="#4450f0"/>
<rect x="322.2" y="360.6" width="2.6" height="2.6" fill="#4450f0"/>
<rect x="314.1" y="341.3" width="2.6" height="2.6" fill="#4450f0"/>
<rect x="320" y="352.4" width="2.6" height="2.6" fill="#4450f0"/>
<rect x="325.9" y="356.1" width="2.6" height="2.6" fill="#4450f0"/>
<rect x="328.9" y="355.4" width="2.6" height="2.6" fill="#4450f0"/>
<rect x="333.3" y="350.2" width="2.6" height="2.6" fill="#4450f0"/>
<rect x="340.7" y="340.6" width="2.6" height="2.6" fill="#4450f0"/>
<rect x="299.3" y="368.7" width="2.6" height="2.6" fill="#4450f0"/>
<rect x="304.9" y="368.4" width="2.6" height="2.6" fill="#4450f0"/>
<rect x="291.8" y="373.9" width="2.6" height="2.6" fill="#4450f0"/>
<rect x="297.8" y="375.4" width="2.6" height="2.6" fill="#4450f0"/>
<rect x="272.6" y="376.8" width="2.6" height="2.6" fill="#4450f0"/>
<rect x="275.6" y="374.6" width="2.6" height="2.6" fill="#4450f0"/>
<rect x="315.6" y="346.5" width="2.6" height="2.6" fill="#4450f0"/>
<rect x="317" y="348" width="2.6" height="2.6" fill="#4450f0"/>
<rect x="334.8" y="348.7" width="2.6" height="2.6" fill="#4450f0"/>
<rect x="342.4" y="339.3" width="2.6" height="2.6" fill="#4450f0"/>
<rect x="348.6" y="335.6" width="2.6" height="2.6" fill="#4450f0"/>
<rect x="339.9" y="346.7" width="2.6" height="2.6" fill="#4450f0"/>
<rect x="274.2" y="375.7" width="2.6" height="2.6" fill="#4450f0"/>
<rect x="337.55" y="330.35" width="2.5" height="2.5" fill="#f06a6a"/>
<rect x="373.05" y="310.65" width="2.5" height="2.5" fill="#f06a6a"/>
<rect x="288.15" y="354.65" width="2.5" height="2.5" fill="#f06a6a"/>
<polygon points="329.4,326.37 331,329.25 327.8,329.25" fill="#e83a3a"/>
<polygon points="336.1,324.97 337.7,327.85 334.5,327.85" fill="#e83a3a"/>
<polygon points="289.4,347.57 291,350.45 287.8,350.45" fill="#e83a3a"/>
<polygon points="294.6,344.57 296.2,347.45 293,347.45" fill="#e83a3a"/>
<polygon points="295.4,350.47 297,353.35 293.8,353.35" fill="#e83a3a"/>
<polygon points="306.5,339.37 308.1,342.25 304.9,342.25" fill="#e83a3a"/>
<polygon points="304.3,347.57 305.9,350.45 302.7,350.45" fill="#e83a3a"/>
<polygon points="347.4,351.97 349,354.85 345.8,354.85" fill="#e83a3a"/>
<polygon points="352.3,353.67 353.9,356.55 350.7,356.55" fill="#e83a3a"/>
<circle cx="370.4" cy="253.3" r="2.5" fill="none" stroke="#d84040" stroke-width="0.7"/>
<circle cx="371.9" cy="255.9" r="2.5" fill="none" stroke="#d84040" stroke-width="0.7"/>
<circle cx="373.3" cy="258.1" r="2.5" fill="none" stroke="#d84040" stroke-width="0.7"/>
<circle cx="376.3" cy="260.4" r="2.5" fill="none" stroke="#d84040" stroke-width="0.7"/>
<circle cx="393.3" cy="253" r="2.5" fill="none" stroke="#d84040" stroke-width="0.7"/>
<circle cx="397.8" cy="254.4" r="2.5" fill="none" stroke="#d84040" stroke-width="0.7"/>
<circle cx="440" cy="256.7" r="2.5" fill="none" stroke="#d84040" stroke-width="0.7"/>
<circle cx="433.3" cy="259.3" r="2.5" fill="none" stroke="#d84040" stroke-width="0.7"/>
<circle cx="431.8" cy="262.2" r="2.5" fill="none" stroke="#d84040" stroke-width="0.7"/>
<circle cx="434.4" cy="257.8" r="2.5" fill="none" stroke="#d84040" stroke-width="0.7"/>
<circle cx="415.6" cy="267.8" r="2.5" fill="none" stroke="#d84040" stroke-width="0.7"/>
<circle cx="319.8" cy="324.4" r="2.5" fill="none" stroke="#d84040" stroke-width="0.7"/>
<circle cx="316.1" cy="329.6" r="2.5" fill="none" stroke="#d84040" stroke-width="0.7"/>
<circle cx="312.4" cy="331.1" r="2.5" fill="none" stroke="#d84040" stroke-width="0.7"/>
<circle cx="309.4" cy="333.3" r="2.5" fill="none" stroke="#d84040" stroke-width="0.7"/>
<circle cx="319.8" cy="335.6" r="2.5" fill="none" stroke="#d84040" stroke-width="0.7"/>
<circle cx="331.7" cy="337.8" r="2.5" fill="none" stroke="#d84040" stroke-width="0.7"/>
<circle cx="355.7" cy="327.4" r="2.5" fill="none" stroke="#d84040" stroke-width="0.7"/>
<circle cx="359.4" cy="325.9" r="2.5" fill="none" stroke="#d84040" stroke-width="0.7"/>
<circle cx="360.9" cy="330.4" r="2.5" fill="none" stroke="#d84040" stroke-width="0.7"/>
<circle cx="350.6" cy="332.6" r="2.5" fill="none" stroke="#d84040" stroke-width="0.7"/>
<circle cx="355" cy="334.8" r="2.5" fill="none" stroke="#d84040" stroke-width="0.7"/>
<circle cx="349.8" cy="336.3" r="2.5" fill="none" stroke="#d84040" stroke-width="0.7"/>
<circle cx="309.4" cy="335.2" r="2.5" fill="none" stroke="#d84040" stroke-width="0.7"/>
<circle cx="313.9" cy="334.4" r="2.5" fill="none" stroke="#d84040" stroke-width="0.7"/>
<circle cx="331.7" cy="338.1" r="2.5" fill="none" stroke="#d84040" stroke-width="0.7"/>
<circle cx="330.2" cy="349.3" r="2.5" fill="none" stroke="#d84040" stroke-width="0.7"/>
<circle cx="334.6" cy="352.2" r="2.5" fill="none" stroke="#d84040" stroke-width="0.7"/>
<circle cx="300.6" cy="356.7" r="2.5" fill="none" stroke="#d84040" stroke-width="0.7"/>
<circle cx="304.3" cy="355.9" r="2.5" fill="none" stroke="#d84040" stroke-width="0.7"/>
<circle cx="316.9" cy="345.6" r="2.5" fill="none" stroke="#d84040" stroke-width="0.7"/>
<circle cx="315.4" cy="347.8" r="2.5" fill="none" stroke="#d84040" stroke-width="0.7"/>
<circle cx="324.3" cy="344.1" r="2.5" fill="none" stroke="#d84040" stroke-width="0.7"/>
<circle cx="325.7" cy="353.7" r="2.5" fill="none" stroke="#d84040" stroke-width="0.7"/>
<circle cx="312.4" cy="346.3" r="2.5" fill="none" stroke="#d84040" stroke-width="0.7"/>
<circle cx="318.3" cy="349.3" r="2.5" fill="none" stroke="#d84040" stroke-width="0.7"/>
<circle cx="347.4" cy="343.1" r="2.5" fill="none" stroke="#d84040" stroke-width="0.7"/>
<polygon points="365.4,308.9 368.4,311.9 365.4,314.9 362.4,311.9" fill="none" stroke="#d84040" stroke-width="0.75"/>
<polygon points="369.1,307.4 372.1,310.4 369.1,313.4 366.1,310.4" fill="none" stroke="#d84040" stroke-width="0.75"/>
<polygon points="364.6,314 367.6,317 364.6,320 361.6,317" fill="none" stroke="#d84040" stroke-width="0.75"/>
<polygon points="349.8,316.3 352.8,319.3 349.8,322.3 346.8,319.3" fill="none" stroke="#d84040" stroke-width="0.75"/>
<polygon points="350.6,318.5 353.6,321.5 350.6,324.5 347.6,321.5" fill="none" stroke="#d84040" stroke-width="0.75"/>
<polygon points="366.9,321.4 369.9,324.4 366.9,327.4 363.9,324.4" fill="none" stroke="#d84040" stroke-width="0.75"/>
<polygon points="371.3,327.4 374.3,330.4 371.3,333.4 368.3,330.4" fill="none" stroke="#d84040" stroke-width="0.75"/>
<polygon points="379.4,322.9 382.4,325.9 379.4,328.9 376.4,325.9" fill="none" stroke="#d84040" stroke-width="0.75"/>
<polygon points="383.9,317 386.9,320 383.9,323 380.9,320" fill="none" stroke="#d84040" stroke-width="0.75"/>
<polygon points="378,317.7 381,320.7 378,323.7 375,320.7" fill="none" stroke="#d84040" stroke-width="0.75"/>
<polygon points="391.3,305.9 394.3,308.9 391.3,311.9 388.3,308.9" fill="none" stroke="#d84040" stroke-width="0.75"/>
<polygon points="389.8,302.9 392.8,305.9 389.8,308.9 386.8,305.9" fill="none" stroke="#d84040" stroke-width="0.75"/>
<polygon points="395,298.5 398,301.5 395,304.5 392,301.5" fill="none" stroke="#d84040" stroke-width="0.75"/>
<polygon points="398.7,296.3 401.7,299.3 398.7,302.3 395.7,299.3" fill="none" stroke="#d84040" stroke-width="0.75"/>
<polygon points="402.4,295.5 405.4,298.5 402.4,301.5 399.4,298.5" fill="none" stroke="#d84040" stroke-width="0.75"/>
<polygon points="375,334 378,337 375,340 372,337" fill="none" stroke="#d84040" stroke-width="0.75"/>
<polygon points="380.2,311.8 383.2,314.8 380.2,317.8 377.2,314.8" fill="none" stroke="#d84040" stroke-width="0.75"/>
<polygon points="334.9,241.03 337,244.81 332.8,244.81" fill="#000"/>
<polygon points="342.5,241.83 344.6,245.61 340.4,245.61" fill="#000"/>
<polygon points="317.9,250.03 320,253.81 315.8,253.81" fill="#000"/>
<polygon points="378.6,266.93 380.7,270.71 376.5,270.71" fill="#000"/>
<rect x="403.3" y="236.5" width="3.8" height="3.8" fill="#000"/>
<rect x="412.7" y="231" width="3.8" height="3.8" fill="#000"/>
<rect x="418.1" y="231.6" width="3.8" height="3.8" fill="#000"/>
<rect x="396.1" y="287.7" width="3.8" height="3.8" fill="#000"/>
<rect x="395.9" y="285.1" width="3.8" height="3.8" fill="#000"/>
<rect x="405.3" y="287.1" width="3.8" height="3.8" fill="#000"/>
<rect x="277.9" y="323.3" width="3.8" height="3.8" fill="#000"/>
<circle cx="448.9" cy="255.1" r="2.4" fill="none" stroke="#111" stroke-width="0.7"/>
<circle cx="441.1" cy="256.2" r="2.4" fill="none" stroke="#111" stroke-width="0.7"/>
<circle cx="437.8" cy="258.4" r="2.4" fill="none" stroke="#111" stroke-width="0.7"/>
<circle cx="393.8" cy="277.4" r="2.4" fill="none" stroke="#111" stroke-width="0.7"/>
<circle cx="405.2" cy="277.9" r="2.4" fill="none" stroke="#111" stroke-width="0.7"/>
<circle cx="399.7" cy="282.6" r="2.4" fill="none" stroke="#111" stroke-width="0.7"/>
<circle cx="391.4" cy="285.6" r="2.4" fill="none" stroke="#111" stroke-width="0.7"/>
<circle cx="302.8" cy="320.7" r="2.4" fill="none" stroke="#111" stroke-width="0.7"/>
<circle cx="296.4" cy="325.6" r="2.4" fill="none" stroke="#111" stroke-width="0.7"/>
<circle cx="311.3" cy="331.2" r="2.5" fill="none" stroke="#d84040" stroke-width="0.7"/>
<circle cx="314.5" cy="329.6" r="2.5" fill="none" stroke="#d84040" stroke-width="0.7"/>
<circle cx="319.4" cy="325.6" r="2.5" fill="none" stroke="#d84040" stroke-width="0.7"/>
<circle cx="309.7" cy="335.3" r="2.5" fill="none" stroke="#d84040" stroke-width="0.7"/>
<circle cx="312.1" cy="337.7" r="2.5" fill="none" stroke="#d84040" stroke-width="0.7"/>
<circle cx="320.2" cy="335.3" r="2.5" fill="none" stroke="#d84040" stroke-width="0.7"/>
<circle cx="316.1" cy="340.9" r="2.5" fill="none" stroke="#d84040" stroke-width="0.7"/>
<circle cx="318.6" cy="344.1" r="2.5" fill="none" stroke="#d84040" stroke-width="0.7"/>
<circle cx="323.4" cy="343.3" r="2.5" fill="none" stroke="#d84040" stroke-width="0.7"/>
<circle cx="331.4" cy="338.5" r="2.5" fill="none" stroke="#d84040" stroke-width="0.7"/>
<circle cx="328.2" cy="348.9" r="2.5" fill="none" stroke="#d84040" stroke-width="0.7"/>
<circle cx="335.4" cy="346.5" r="2.5" fill="none" stroke="#d84040" stroke-width="0.7"/>
<circle cx="315.3" cy="348.1" r="2.5" fill="none" stroke="#d84040" stroke-width="0.7"/>
<circle cx="317.8" cy="349.7" r="2.5" fill="none" stroke="#d84040" stroke-width="0.7"/>
<circle cx="312.1" cy="352.1" r="2.5" fill="none" stroke="#d84040" stroke-width="0.7"/>
<circle cx="300.9" cy="356.1" r="2.5" fill="none" stroke="#d84040" stroke-width="0.7"/>
<circle cx="304.1" cy="356.9" r="2.5" fill="none" stroke="#d84040" stroke-width="0.7"/>
<circle cx="323.4" cy="353.7" r="2.5" fill="none" stroke="#d84040" stroke-width="0.7"/>
<circle cx="350.7" cy="332" r="2.5" fill="none" stroke="#d84040" stroke-width="0.7"/>
<circle cx="354.7" cy="336.1" r="2.5" fill="none" stroke="#d84040" stroke-width="0.7"/>
<circle cx="357.9" cy="328" r="2.5" fill="none" stroke="#d84040" stroke-width="0.7"/>
<circle cx="349.1" cy="342.5" r="2.5" fill="none" stroke="#d84040" stroke-width="0.7"/>
<polygon points="329,326.27 330.6,329.15 327.4,329.15" fill="#e83a3a"/>
<polygon points="335.4,324.67 337,327.55 333.8,327.55" fill="#e83a3a"/>
<polygon points="294.5,344.77 296.1,347.65 292.9,347.65" fill="#e83a3a"/>
<polygon points="289.6,347.17 291.2,350.05 288,350.05" fill="#e83a3a"/>
<polygon points="304.1,347.17 305.7,350.05 302.5,350.05" fill="#e83a3a"/>
<polygon points="313.7,343.17 315.3,346.05 312.1,346.05" fill="#e83a3a"/>
<polygon points="346.7,343.17 348.3,346.05 345.1,346.05" fill="#e83a3a"/>
<polygon points="345.9,355.27 347.5,358.15 344.3,358.15" fill="#e83a3a"/>
<polygon points="349.1,351.97 350.7,354.85 347.5,354.85" fill="#e83a3a"/>
<polygon points="353.9,352.77 355.5,355.65 352.3,355.65" fill="#e83a3a"/>
<rect x="337.35" y="329.95" width="2.5" height="2.5" fill="#f06a6a"/>
<rect x="294.05" y="350.85" width="2.5" height="2.5" fill="#f06a6a"/>
<rect x="288.35" y="354.05" width="2.5" height="2.5" fill="#f06a6a"/>
<rect x="305.25" y="340.45" width="2.5" height="2.5" fill="#f06a6a"/>
<rect x="289.9" y="332.4" width="2.6" height="2.6" fill="#4450f0"/>
<rect x="298.8" y="328.3" width="2.6" height="2.6" fill="#4450f0"/>
<rect x="301.2" y="342" width="2.6" height="2.6" fill="#4450f0"/>
<rect x="309.2" y="346.8" width="2.6" height="2.6" fill="#4450f0"/>
<rect x="308.4" y="350.8" width="2.6" height="2.6" fill="#4450f0"/>
<rect x="313.2" y="351.6" width="2.6" height="2.6" fill="#4450f0"/>
<rect x="321.3" y="352.4" width="2.6" height="2.6" fill="#4450f0"/>
<rect x="323.7" y="353.2" width="2.6" height="2.6" fill="#4450f0"/>
<rect x="326.9" y="356.5" width="2.6" height="2.6" fill="#4450f0"/>
<rect x="330.1" y="356.5" width="2.6" height="2.6" fill="#4450f0"/>
<rect x="314" y="356.5" width="2.6" height="2.6" fill="#4450f0"/>
<rect x="308.4" y="358.9" width="2.6" height="2.6" fill="#4450f0"/>
<rect x="313.2" y="360.5" width="2.6" height="2.6" fill="#4450f0"/>
<rect x="318.9" y="359.7" width="2.6" height="2.6" fill="#4450f0"/>
<rect x="321.3" y="360.5" width="2.6" height="2.6" fill="#4450f0"/>
<rect x="298" y="358.9" width="2.6" height="2.6" fill="#4450f0"/>
<rect x="301.2" y="358.1" width="2.6" height="2.6" fill="#4450f0"/>
<rect x="282.7" y="362.1" width="2.6" height="2.6" fill="#4450f0"/>
<rect x="285.9" y="363.7" width="2.6" height="2.6" fill="#4450f0"/>
<rect x="298.8" y="368.5" width="2.6" height="2.6" fill="#4450f0"/>
<rect x="304.4" y="367.7" width="2.6" height="2.6" fill="#4450f0"/>
<rect x="292.4" y="374.1" width="2.6" height="2.6" fill="#4450f0"/>
<rect x="298" y="374.9" width="2.6" height="2.6" fill="#4450f0"/>
<rect x="341.4" y="340.4" width="2.6" height="2.6" fill="#4450f0"/>
<rect x="344.6" y="339.6" width="2.6" height="2.6" fill="#4450f0"/>
<rect x="348.6" y="336.4" width="2.6" height="2.6" fill="#4450f0"/>
<rect x="349.4" y="348.4" width="2.6" height="2.6" fill="#4450f0"/>
<rect x="315.6" y="340.4" width="2.6" height="2.6" fill="#4450f0"/>
<rect x="326.9" y="342.8" width="2.6" height="2.6" fill="#4450f0"/>
<rect x="334.9" y="349.2" width="2.6" height="2.6" fill="#4450f0"/>
<rect x="338.9" y="347.6" width="2.6" height="2.6" fill="#4450f0"/>
<polygon points="100.5,128.55 129.7,128.55 129.7,130.65 139.2,126.4 129.7,122.15 129.7,124.25 100.5,124.25" fill="#f7b06c"/>
<polygon points="92.8,296.42 133.84,267.86 135.35,270.04 142.9,259 129.93,262.24 131.44,264.42 90.4,292.98" fill="#f7b06c"/>
<polygon points="63.31,345.57 88.75,264.09 90.51,264.65 92,247.3 83.35,262.41 85.12,262.96 59.69,344.43" fill="#ff5a5a" fill-opacity="0.75"/>
<polygon points="384.93,121.82 332.92,170.4 330.23,167.51 322.8,183 338.76,176.65 336.06,173.76 388.07,125.18" fill="#ff5a5a" fill-opacity="0.8"/>
<polygon points="343.83,184.89 385.27,130.14 387.43,131.77 393.7,115.2 379.45,125.74 381.61,127.37 340.17,182.11" fill="#ff5a5a" fill-opacity="0.8"/>
<polygon points="340.29,356.22 394.12,315.65 395.98,318.12 405.6,304.3 389.66,309.74 391.53,312.21 337.71,352.78" fill="#ff5a5a" fill-opacity="0.8"/>
<polygon points="367.01,151.4 396.91,151.27 396.92,153.67 411.9,149 396.88,144.47 396.89,146.87 366.99,147" fill="#f7b06c"/>
<polygon points="368.97,308.25 392.37,278.82 394.33,280.38 398.9,267.4 387.29,274.77 389.24,276.33 365.83,305.75" fill="#f7b06c"/>
<ellipse cx="331" cy="63.1" rx="16.6" ry="5.6" transform="rotate(19 331 63.1)" fill="none" stroke="#000" stroke-width="1.1"/>
<ellipse cx="382.6" cy="56.8" rx="10.3" ry="7.0" transform="rotate(18 382.6 56.8)" fill="none" stroke="#000" stroke-width="1.1"/>
<ellipse cx="318.5" cy="130.5" rx="39" ry="19.5" transform="rotate(30 318.5 130.5)" fill="none" stroke="#2ea82e" stroke-width="1.3"/>
<circle cx="422.3" cy="139.3" r="30.4" fill="none" stroke="#e8962e" stroke-width="1.1"/>
<text x="27.8" y="25.4" font-family='"Liberation Serif", serif' font-size="18" font-weight="bold" fill="#000" text-anchor="start">a)</text>
<text x="261.4" y="24" font-family='"Liberation Serif", serif' font-size="18" font-weight="bold" fill="#000" text-anchor="start">b)</text>
<text x="500.8" y="25.8" font-family='"Liberation Serif", serif' font-size="19" font-weight="bold" fill="#000" text-anchor="start">c)</text>
<path d="M76,35 C98,7 226,-9 288,14" fill="none" stroke="#646464" stroke-width="3.8"/>
<polygon points="290.8,8.6 308.2,23.8 285,18.8" fill="#646464"/>
<rect x="5.4" y="28.8" width="11.3" height="29.8" fill="#fff" stroke="#999" stroke-width="0.8"/>
<text x="0" y="0" font-family='"Liberation Serif", serif' font-size="10" font-weight="bold" fill="#000" text-anchor="middle" transform="translate(14.6,43.7) rotate(-90)">Bright</text>
<rect x="6.3" y="184.2" width="12.5" height="23.4" fill="#000"/>
<text x="0" y="0" font-family='"Liberation Serif", serif' font-size="10" font-weight="bold" fill="#fff" text-anchor="middle" transform="translate(16.1,195.9) rotate(-90)">Dark</text>
<rect x="6.9" y="208.6" width="11.3" height="31.6" fill="#ffff1e"/>
<text x="0" y="0" font-family='"Liberation Serif", serif' font-size="10" font-weight="bold" fill="#000" text-anchor="middle" transform="translate(16.1,224.4) rotate(-90)">Yellow</text>
<rect x="6.1" y="368.3" width="11.7" height="21.5" fill="#0a0ae6"/>
<text x="0" y="0" font-family='"Liberation Serif", serif' font-size="10" font-weight="bold" fill="#fff" text-anchor="middle" transform="translate(15.6,379) rotate(-90)">Blue</text>
<rect x="22.8" y="389.2" width="28.3" height="11.4" fill="#10b810"/>
<text x="36.9" y="398.6" font-family='"Liberation Serif", serif' font-size="10" font-weight="bold" fill="#fff" text-anchor="middle">Green</text>
<rect x="251.2" y="389.4" width="18.6" height="10.4" fill="#ee1010"/>
<text x="260.5" y="398.3" font-family='"Liberation Serif", serif' font-size="10" font-weight="bold" fill="#000" text-anchor="middle">Red</text>
<text x="0" y="0" font-family='"Liberation Sans", sans-serif' font-size="11.3" font-weight="normal" fill="#000" text-anchor="middle" transform="translate(16.2,113.1) rotate(-90)">L*</text>
<text x="0" y="0" font-family='"Liberation Sans", sans-serif' font-size="10.5" font-weight="normal" fill="#000" text-anchor="middle" transform="translate(15.9,287.3) rotate(-90)">b*</text>
<text x="144.8" y="400.8" font-family='"Liberation Serif", serif' font-size="10.5" font-weight="normal" fill="#000" text-anchor="middle">a*</text>
<text x="375.9" y="400.8" font-family='"Liberation Serif", serif' font-size="10.5" font-weight="normal" fill="#000" text-anchor="middle">a*</text>
<text x="56.6" y="45.5" font-family='"Liberation Serif", serif' font-size="10.5" font-weight="normal" fill="#262626" text-anchor="middle">white</text>
<text x="56.5" y="54.8" font-family='"Liberation Serif", serif' font-size="10.5" font-weight="normal" fill="#262626" text-anchor="middle">ash</text>
<text x="97" y="118.5" font-family='"Liberation Serif", serif' font-size="10.3" font-weight="normal" fill="#e49a4a" text-anchor="start">oxidization</text>
<text x="91.6" y="304" font-family='"Liberation Serif", serif' font-size="10.3" font-weight="normal" fill="#e49a4a" text-anchor="start">oxidization</text>
<rect x="109.5" y="194.8" width="6.5" height="10.6" fill="#fff"/>
<text x="66.2" y="203.3" font-family='"Liberation Serif", serif' font-size="10.2" font-weight="normal" fill="#262626" text-anchor="start">black-gray lava</text>
<text x="0" y="0" font-family='"Liberation Serif", serif' font-size="10.2" font-weight="normal" fill="#000" text-anchor="start" transform="translate(127.2,158) rotate(-52.5)">coarse pumice</text>
<text x="0" y="0" font-family='"Liberation Serif", serif' font-size="10.2" font-weight="normal" fill="#000" text-anchor="start" transform="translate(138.6,261.4) rotate(-52.5)">coarse pumice</text>
<text x="0" y="0" font-family='"Liberation Serif", serif' font-size="10.2" font-weight="bold" fill="#e03a3a" text-anchor="start" transform="translate(130,177.5) rotate(-37.5)">pink ash + black lava</text>
<text x="0" y="0" font-family='"Liberation Serif", serif' font-size="10.3" font-weight="bold" fill="#e03a3a" text-anchor="start" transform="translate(181,114) rotate(-32.5)">Vulcanian</text>
<text x="0" y="0" font-family='"Liberation Serif", serif' font-size="10.3" font-weight="bold" fill="#e03a3a" text-anchor="start" transform="translate(180.6,126.3) rotate(-36)">Mar12~Jun27</text>
<text x="0" y="0" font-family='"Liberation Serif", serif' font-size="10.3" font-weight="bold" fill="#e03a3a" text-anchor="start" transform="translate(139.6,313.2) rotate(-32)">Vulcanian</text>
<text x="0" y="0" font-family='"Liberation Serif", serif' font-size="10.3" font-weight="bold" fill="#e03a3a" text-anchor="start" transform="translate(138.8,327.6) rotate(-37.5)">Mar12~Jun27</text>
<text x="338.2" y="52.6" font-family='"Liberation Serif", serif' font-size="10.5" font-weight="normal" fill="#262626" text-anchor="middle">2008</text>
<text x="368.8" y="47.9" font-family='"Liberation Serif", serif' font-size="10.5" font-weight="normal" fill="#262626" text-anchor="middle">Jan19</text>
<text x="280.6" y="88.8" font-family='"Liberation Serif", serif' font-size="10.5" font-weight="bold" fill="#2f3fdc" text-anchor="start">2017Oct</text>
<text x="0" y="0" font-family='"Liberation Serif", serif' font-size="10.1" font-weight="normal" fill="#000" text-anchor="start" transform="translate(432,114.8) rotate(-52)">fine pumiceous ash</text>
<text x="0" y="0" font-family='"Liberation Serif", serif' font-size="10.5" font-weight="bold" fill="#2ea82e" text-anchor="start" transform="translate(277.6,134.6) rotate(40)">Mar6AM</text>
<text x="0" y="0" font-family='"Liberation Serif", serif' font-size="10.2" font-weight="bold" fill="#e03a3a" text-anchor="start" transform="translate(278,187.5) rotate(-50)">Mar6</text>
<text x="0" y="0" font-family='"Liberation Serif", serif' font-size="10.2" font-weight="bold" fill="#e03a3a" text-anchor="start" transform="translate(286,194.8) rotate(-50)">evening</text>
<text x="0" y="0" font-family='"Liberation Serif", serif' font-size="10.5" font-weight="bold" fill="#e03a3a" text-anchor="start" transform="translate(356.6,187.4) rotate(-51)">Mar6PM</text>
<text x="400.5" y="142.8" font-family='"Liberation Serif", serif' font-size="10.2" font-weight="normal" fill="#e49a4a" text-anchor="start">Mar7AM</text>
<text x="282" y="203.3" font-family='"Liberation Serif", serif' font-size="10.2" font-weight="normal" fill="#262626" text-anchor="start">black-gray lava</text>
<text x="381.9" y="264.1" font-family='"Liberation Serif", serif' font-size="10.2" font-weight="normal" fill="#e49a4a" text-anchor="start">Mar7AM</text>
<text x="311.4" y="311.1" font-family='"Liberation Serif", serif' font-size="10.2" font-weight="bold" fill="#e03a3a" text-anchor="start">Mar6</text>
<text x="311.2" y="319.3" font-family='"Liberation Serif", serif' font-size="10.2" font-weight="bold" fill="#e03a3a" text-anchor="start">evening</text>
<text x="260.6" y="352.5" font-family='"Liberation Serif", serif' font-size="10.2" font-weight="bold" fill="#2f3fdc" text-anchor="start">2017</text>
<text x="264.5" y="364.1" font-family='"Liberation Serif", serif' font-size="10.2" font-weight="bold" fill="#2f3fdc" text-anchor="start">Oct</text>
<text x="308.7" y="373" font-family='"Liberation Serif", serif' font-size="10.2" font-weight="bold" fill="#2ea82e" text-anchor="start">Mar6AM</text>
<text x="0" y="0" font-family='"Liberation Serif", serif' font-size="10.5" font-weight="bold" fill="#e03a3a" text-anchor="start" transform="translate(373.5,354) rotate(-35)">Mar6PM</text>
<rect x="411.7" y="299.5" width="80" height="83" fill="#fff" stroke="#999" stroke-width="0.8"/>
<polygon points="422.4,303.34 424.4,306.94 420.4,306.94" fill="#000"/>
<text x="431.6" y="308.8" font-family='"Liberation Sans", sans-serif' font-size="8.4" font-weight="normal" fill="#111" text-anchor="start">2008,11phreato</text>
<circle cx="422.4" cy="315.85" r="2.5" fill="none" stroke="#111" stroke-width="0.7"/>
<text x="431.6" y="319.15" font-family='"Liberation Sans", sans-serif' font-size="8.4" font-weight="normal" fill="#111" text-anchor="start">2011subP</text>
<rect x="420.5" y="324.3" width="3.8" height="3.8" fill="#000"/>
<text x="431.6" y="329.5" font-family='"Liberation Sans", sans-serif' font-size="8.4" font-weight="normal" fill="#111" text-anchor="start">2011vulc</text>
<rect x="421.2" y="335.35" width="2.4" height="2.4" fill="#4450f0"/>
<text x="431.6" y="339.85" font-family='"Liberation Sans", sans-serif' font-size="8.4" font-weight="normal" fill="#111" text-anchor="start">2017</text>
<polygon points="422.4,345.28 423.9,347.98 420.9,347.98" fill="#e83a3a"/>
<text x="431.6" y="350.2" font-family='"Liberation Sans", sans-serif' font-size="8.4" font-weight="normal" fill="#111" text-anchor="start">&#8722;2018Mar6am</text>
<polygon points="422.4,354.05 425.6,357.25 422.4,360.45 419.2,357.25" fill="none" stroke="#d84040" stroke-width="0.75"/>
<text x="431.6" y="360.55" font-family='"Liberation Sans", sans-serif' font-size="8.4" font-weight="normal" fill="#111" text-anchor="start">&#8722;2018Mar6 15h</text>
<circle cx="422.4" cy="367.6" r="2.6" fill="none" stroke="#d84040" stroke-width="0.7"/>
<text x="431.6" y="370.9" font-family='"Liberation Sans", sans-serif' font-size="8.4" font-weight="normal" fill="#111" text-anchor="start">&#8722;2018Mar10</text>
<rect x="421.2" y="376.75" width="2.4" height="2.4" fill="#f06a6a"/>
<text x="431.6" y="381.25" font-family='"Liberation Sans", sans-serif' font-size="8.4" font-weight="normal" fill="#111" text-anchor="start">&#8722;2018Mar11</text>
<text x="502.5" y="57" font-family='"Liberation Serif", serif' font-size="10.5" font-weight="normal" fill="#000" text-anchor="middle">L*</text>
<circle cx="550" cy="78.5" r="10.2" fill="#c9c9c9" stroke="#1a1a1a" stroke-width="1.0"/>
<circle cx="537.8" cy="84.6" r="10.2" fill="#c9c9c9" stroke="#1a1a1a" stroke-width="1.0"/>
<circle cx="601.4" cy="69.8" r="10.2" fill="#c9c9c9" stroke="#1a1a1a" stroke-width="1.0"/>
<circle cx="651.3" cy="96.5" r="10.2" fill="#c9c9c9" stroke="#1a1a1a" stroke-width="1.0"/>
<circle cx="554.1" cy="171.3" r="10.2" fill="#c9c9c9" stroke="#1a1a1a" stroke-width="1.0"/>
<polygon points="547.99,161.78 543.16,108.03 546.4,107.74 539.6,96.3 534.95,108.77 538.18,108.48 543.01,162.22" fill="#b5b5b5"/>
<polygon points="573.55,120.21 565.43,98.99 568.51,97.81 558.9,88.1 558.23,101.74 561.32,100.56 569.45,121.79" fill="#c9cc2e"/>
<line x1="598.1" y1="80.9" x2="554.7" y2="165.4" stroke="#1e8cf0" stroke-width="2.3"/>
<polygon points="592.02,92.73 592.34,83.9 594.22,88.46 599.01,87.33" fill="#1e8cf0"/>
<polygon points="584.21,107.94 584.53,99.11 586.4,103.67 591.2,102.54" fill="#1e8cf0"/>
<polygon points="574.23,127.38 574.55,118.55 576.42,123.11 581.22,121.97" fill="#1e8cf0"/>
<polygon points="568.59,138.36 568.91,129.53 570.78,134.09 575.58,132.96" fill="#1e8cf0"/>
<polygon points="557.74,159.49 558.06,150.66 559.93,155.22 564.73,154.08" fill="#1e8cf0"/>
<polygon points="554.7,165.4 555.02,156.57 556.89,161.13 561.69,160" fill="#1e8cf0"/>
<polygon points="541.5,170.4 553.44,159.66 550.37,158.09 585.92,88.5 589,90.07 590.7,74.1 578.76,84.84 581.83,86.41 546.28,156 543.2,154.43" fill="#f2393a"/>
<polygon points="587.42,112.71 605.55,107.38 606.34,110.06 617.4,101.6 603.52,100.47 604.31,103.16 586.18,108.49" fill="#f7962f"/>
<polygon points="616.85,103.97 635.92,100.86 636.37,103.63 648.4,96.6 634.76,93.76 635.22,96.52 616.15,99.63" fill="#f7962f"/>
<line x1="530.5" y1="70.5" x2="537.6" y2="84.5" stroke="#1a1a1a" stroke-width="0.8"/>
<line x1="553.8" y1="60.5" x2="552" y2="73.5" stroke="#1a1a1a" stroke-width="0.8"/>
<line x1="607.3" y1="53.3" x2="604.4" y2="65" stroke="#1a1a1a" stroke-width="0.8"/>
<line x1="638.3" y1="82.2" x2="651" y2="96.2" stroke="#1a1a1a" stroke-width="0.8"/>
<line x1="557.5" y1="180.4" x2="562.6" y2="187.4" stroke="#1a1a1a" stroke-width="0.8"/>
<text x="523.4" y="52.2" font-family='"Liberation Sans", sans-serif' font-size="7.7" font-weight="normal" fill="#161616" text-anchor="middle">Altered</text>
<text x="523.4" y="60.6" font-family='"Liberation Sans", sans-serif' font-size="7.7" font-weight="normal" fill="#161616" text-anchor="middle">lava</text>
<text x="523.4" y="69" font-family='"Liberation Sans", sans-serif' font-size="7.7" font-weight="normal" fill="#161616" text-anchor="middle">(fine)</text>
<text x="555.6" y="41.4" font-family='"Liberation Sans", sans-serif' font-size="7.7" font-weight="normal" fill="#161616" text-anchor="middle">Altered</text>
<text x="555.6" y="50.4" font-family='"Liberation Sans", sans-serif' font-size="7.7" font-weight="normal" fill="#161616" text-anchor="middle">particle</text>
<text x="555.6" y="59.3" font-family='"Liberation Sans", sans-serif' font-size="7.7" font-weight="normal" fill="#161616" text-anchor="middle">(sulfur)</text>
<text x="586.8" y="51.2" font-family='"Liberation Sans", sans-serif' font-size="7.7" font-weight="normal" fill="#161616" text-anchor="start">Vesicular Glassy particle</text>
<text x="621" y="81.2" font-family='"Liberation Sans", sans-serif' font-size="7.65" font-weight="normal" fill="#161616" text-anchor="start">Oxidized particle</text>
<text x="559.4" y="194.8" font-family='"Liberation Sans", sans-serif' font-size="7.7" font-weight="normal" fill="#161616" text-anchor="start">Dense Crystalline particle</text>
<text x="0" y="0" font-family='"Liberation Serif", serif' font-size="8.9" font-weight="normal" fill="#161616" text-anchor="start" transform="translate(526.4,95.6) rotate(90)">(alteration of lava)</text>
<text x="0" y="0" font-family='"Liberation Serif", serif' font-size="10" font-weight="normal" fill="#e8262a" text-anchor="start" transform="translate(551.6,139) rotate(-61)">mixing</text>
<text x="0" y="0" font-family='"Liberation Serif", serif' font-size="9.8" font-weight="normal" fill="#2a8ee8" text-anchor="start" transform="translate(570,161.5) rotate(-62)">degassing /</text>
<text x="0" y="0" font-family='"Liberation Serif", serif' font-size="9.8" font-weight="normal" fill="#2a8ee8" text-anchor="start" transform="translate(581.8,157.2) rotate(-61)">matrix</text>
<text x="0" y="0" font-family='"Liberation Serif", serif' font-size="9.8" font-weight="normal" fill="#2a8ee8" text-anchor="start" transform="translate(583.5,174.5) rotate(-62)">crystallization</text>
<text x="0" y="0" font-family='"Liberation Serif", serif' font-size="10.4" font-weight="normal" fill="#e8962e" text-anchor="start" transform="translate(598.3,120) rotate(-10)">oxidation</text>
<text x="502" y="229.6" font-family='"Liberation Serif", serif' font-size="10.5" font-weight="normal" fill="#000" text-anchor="middle">b*</text>
<text x="673.5" y="219.8" font-family='"Liberation Serif", serif' font-size="10.5" font-weight="normal" fill="#000" text-anchor="middle">a*</text>
<text x="673.8" y="394.3" font-family='"Liberation Serif", serif' font-size="10.5" font-weight="normal" fill="#000" text-anchor="middle">a*</text>
<circle cx="549.6" cy="252.4" r="10.2" fill="#c9c9c9" stroke="#1a1a1a" stroke-width="1.0"/>
<circle cx="601.2" cy="281.9" r="10.2" fill="#c9c9c9" stroke="#1a1a1a" stroke-width="1.0"/>
<circle cx="651.5" cy="232.3" r="10.2" fill="#c9c9c9" stroke="#1a1a1a" stroke-width="1.0"/>
<circle cx="553.9" cy="324.8" r="10.2" fill="#c9c9c9" stroke="#1a1a1a" stroke-width="1.0"/>
<circle cx="538.1" cy="348.7" r="10.2" fill="#c9c9c9" stroke="#1a1a1a" stroke-width="1.0"/>
<polygon points="569.96,291.72 563.12,273.74 566.21,272.56 556.8,263.3 555.92,276.47 559.01,275.3 565.84,293.28" fill="#c9cc2e"/>
<polygon points="550.54,328.25 543.21,337.48 541.45,336.08 540.2,345.3 548.89,341.99 547.13,340.59 554.46,331.35" fill="#a8a8a8"/>
<line x1="592.7" y1="285.6" x2="559" y2="326.5" stroke="#1e8cf0" stroke-width="2.3"/>
<polygon points="590.34,288.46 592.53,279.9 593.39,284.76 598.32,284.67" fill="#1e8cf0"/>
<polygon points="579.22,301.96 581.41,293.4 582.27,298.26 587.2,298.17" fill="#1e8cf0"/>
<polygon points="569.78,313.41 571.98,304.85 572.84,309.71 577.77,309.62" fill="#1e8cf0"/>
<polygon points="559,326.5 561.19,317.94 562.05,322.8 566.98,322.71" fill="#1e8cf0"/>
<polygon points="534.4,340.6 547.96,331.98 545.19,329.93 581.8,280.61 584.57,282.67 588.9,267.2 575.34,275.82 578.11,277.87 541.5,327.19 538.73,325.13" fill="#f2393a"/>
<polygon points="603.36,282.44 615.14,268.86 617.26,270.7 622,257.6 609.7,264.14 611.82,265.98 600.04,279.56" fill="#f7962f"/>
<polygon points="622.24,260.66 643.61,242.17 645.44,244.29 652,232 638.9,236.73 640.73,238.84 619.36,257.34" fill="#f7962f"/>
<line x1="546.2" y1="236.2" x2="548.1" y2="247.3" stroke="#1a1a1a" stroke-width="0.8"/>
<line x1="590.3" y1="267.5" x2="599" y2="278.3" stroke="#1a1a1a" stroke-width="0.8"/>
<line x1="558" y1="329.6" x2="574.3" y2="348.9" stroke="#1a1a1a" stroke-width="0.8"/>
<line x1="532" y1="351.1" x2="527.6" y2="359.5" stroke="#1a1a1a" stroke-width="0.8"/>
<line x1="624.5" y1="222.8" x2="646" y2="229.8" stroke="#1a1a1a" stroke-width="0.8"/>
<text x="583.2" y="221.4" font-family='"Liberation Sans", sans-serif' font-size="7.65" font-weight="normal" fill="#161616" text-anchor="start">Oxidized particle</text>
<text x="546.3" y="233.7" font-family='"Liberation Sans", sans-serif' font-size="7.7" font-weight="normal" fill="#161616" text-anchor="middle">Altered particle</text>
<text x="594.8" y="250.1" font-family='"Liberation Sans", sans-serif' font-size="7.7" font-weight="normal" fill="#161616" text-anchor="middle">Vesicular</text>
<text x="595.2" y="258.6" font-family='"Liberation Sans", sans-serif' font-size="7.7" font-weight="normal" fill="#161616" text-anchor="middle">Glassy</text>
<text x="595.2" y="267" font-family='"Liberation Sans", sans-serif' font-size="7.7" font-weight="normal" fill="#161616" text-anchor="middle">particle</text>
<text x="571.2" y="356" font-family='"Liberation Sans", sans-serif' font-size="7.7" font-weight="normal" fill="#161616" text-anchor="start">Dense Crystalline particle</text>
<text x="525.9" y="367.2" font-family='"Liberation Sans", sans-serif' font-size="7.7" font-weight="normal" fill="#161616" text-anchor="middle">Altered</text>
<text x="525.9" y="373.8" font-family='"Liberation Sans", sans-serif' font-size="7.7" font-weight="normal" fill="#161616" text-anchor="middle">lava</text>
<text x="525.9" y="380.3" font-family='"Liberation Sans", sans-serif' font-size="7.7" font-weight="normal" fill="#161616" text-anchor="middle">(fine)</text>
<text x="0" y="0" font-family='"Liberation Serif", serif' font-size="9.2" font-weight="normal" fill="#c8c832" text-anchor="start" transform="translate(546,266.5) rotate(81)">sulfur</text>
<text x="0" y="0" font-family='"Liberation Serif", serif' font-size="9.2" font-weight="normal" fill="#c8c832" text-anchor="start" transform="translate(536.3,264.6) rotate(79)">addition</text>
<text x="0" y="0" font-family='"Liberation Serif", serif' font-size="9.2" font-weight="normal" fill="#c8c832" text-anchor="start" transform="translate(526.3,261) rotate(77)">(alteration)</text>
<text x="0" y="0" font-family='"Liberation Serif", serif' font-size="10" font-weight="normal" fill="#e8262a" text-anchor="start" transform="translate(551,306.8) rotate(-48)">mixing</text>
<text x="0" y="0" font-family='"Liberation Serif", serif' font-size="9.4" font-weight="normal" fill="#2a8ee8" text-anchor="start" transform="translate(572,325) rotate(-51)">degassing /</text>
<text x="0" y="0" font-family='"Liberation Serif", serif' font-size="9.4" font-weight="normal" fill="#2a8ee8" text-anchor="start" transform="translate(585,323) rotate(-52)">matrix</text>
<text x="0" y="0" font-family='"Liberation Serif", serif' font-size="9.4" font-weight="normal" fill="#2a8ee8" text-anchor="start" transform="translate(584.5,340.5) rotate(-55)">crystallization</text>
<text x="0" y="0" font-family='"Liberation Serif", serif' font-size="10.5" font-weight="normal" fill="#e8962e" text-anchor="start" transform="translate(617.6,279.6) rotate(-42)">oxidation</text>
</svg></body></html>
